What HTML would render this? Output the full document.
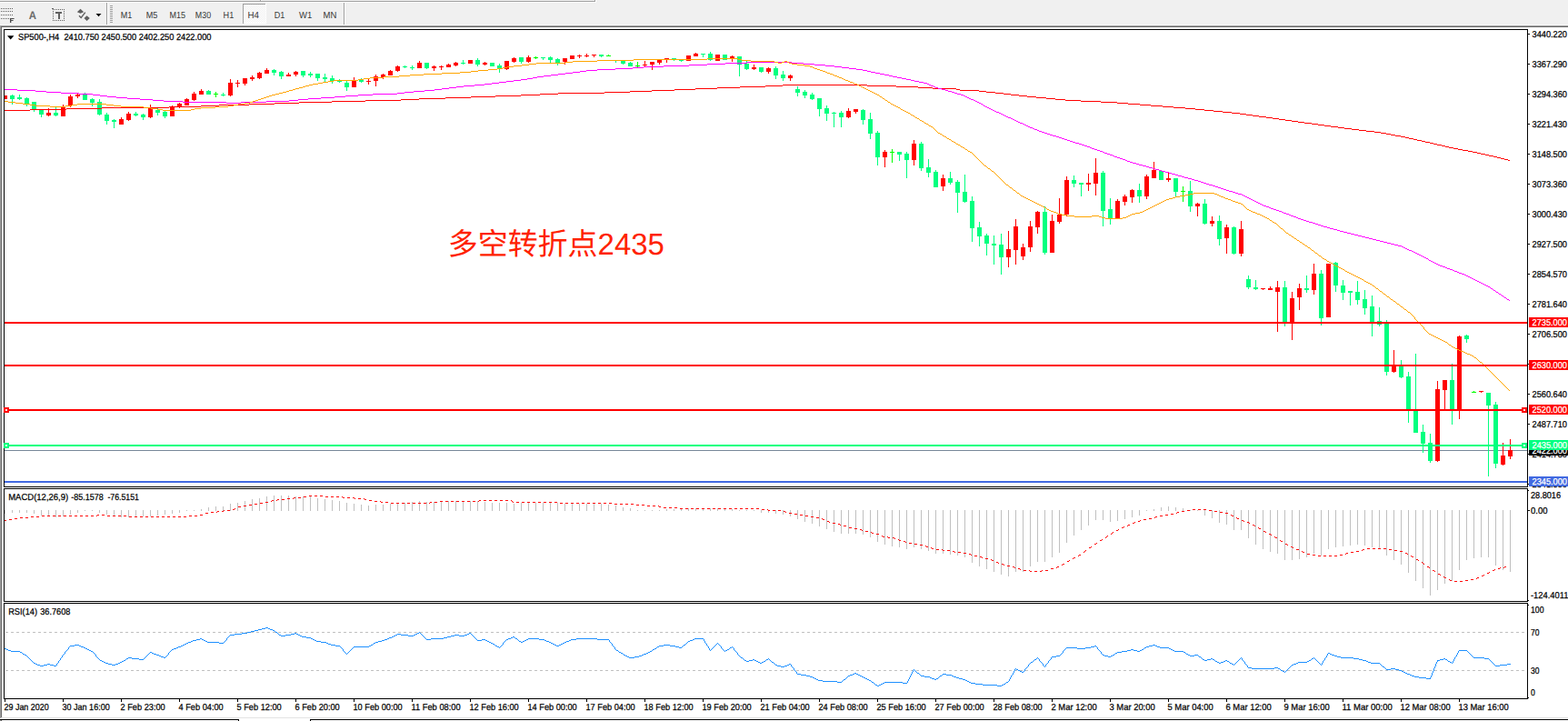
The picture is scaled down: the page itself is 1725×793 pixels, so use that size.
<!DOCTYPE html>
<html><head><meta charset="utf-8"><title>SP500 H4</title>
<style>html,body{margin:0;padding:0;background:#fff;width:1725px;height:793px;overflow:hidden;font-family:"Liberation Sans",sans-serif}text{font-family:"Liberation Sans",sans-serif;stroke-width:0.25px;paint-order:stroke;text-rendering:geometricPrecision}</style>
</head><body><svg width="1725" height="793" viewBox="0 0 1725 793" shape-rendering="crispEdges" font-family="Liberation Sans, sans-serif" style="position:absolute;left:0;top:0"><rect x="0" y="0" width="1725" height="28" fill="#f0f0f0"/>
<rect x="0" y="1" width="655" height="1" fill="#a0a0a0"/>
<rect x="0" y="2" width="656" height="1" fill="#ffffff"/>
<rect x="286" y="0" width="1" height="2" fill="#a0a0a0"/>
<rect x="287" y="0" width="1" height="1" fill="#fff"/>
<rect x="654" y="0" width="1" height="2" fill="#a0a0a0"/>
<rect x="655" y="0" width="1" height="3" fill="#fff"/>
<rect x="0" y="27" width="1725" height="1" fill="#f6f6f6"/>
<rect x="0" y="28" width="1725" height="1" fill="#a0a0a0"/>
<rect x="0" y="29" width="1725" height="1" fill="#696969"/>
<rect x="0" y="29" width="1" height="761" fill="#a0a0a0"/>
<rect x="1" y="29" width="1" height="760" fill="#696969"/>
<rect x="1" y="789" width="1724" height="1" fill="#e3e3e3"/>
<rect x="0" y="791" width="263" height="1" fill="#000"/>
<rect x="262" y="791" width="1" height="2" fill="#000"/>
<rect x="341" y="791" width="1384" height="1" fill="#000"/>
<rect x="341" y="791" width="1" height="2" fill="#000"/>
<rect x="0" y="792" width="1" height="1" fill="#a0a0a0"/>
<rect x="1" y="792" width="1" height="1" fill="#696969"/>
<rect x="117" y="3" width="1" height="24" fill="#a0a0a0"/>
<rect x="118" y="3" width="1" height="24" fill="#fff"/>
<rect x="378" y="3" width="1" height="24" fill="#a0a0a0"/>
<rect x="379" y="3" width="1" height="24" fill="#fff"/>
<rect x="121" y="6" width="3" height="1" fill="#a0a0a0"/>
<rect x="121" y="8" width="3" height="1" fill="#a0a0a0"/>
<rect x="121" y="10" width="3" height="1" fill="#a0a0a0"/>
<rect x="121" y="12" width="3" height="1" fill="#a0a0a0"/>
<rect x="121" y="14" width="3" height="1" fill="#a0a0a0"/>
<rect x="121" y="16" width="3" height="1" fill="#a0a0a0"/>
<rect x="121" y="18" width="3" height="1" fill="#a0a0a0"/>
<rect x="121" y="20" width="3" height="1" fill="#a0a0a0"/>
<rect x="121" y="22" width="3" height="1" fill="#a0a0a0"/>
<rect x="121" y="24" width="3" height="1" fill="#a0a0a0"/>
<pattern id="dz" width="2" height="2" patternUnits="userSpaceOnUse"><rect width="2" height="2" fill="#f0f0f0"/><rect x="0" y="0" width="1" height="1" fill="#fff"/><rect x="1" y="1" width="1" height="1" fill="#fff"/></pattern>
<rect x="268" y="5" width="24" height="20" fill="url(#dz)"/>
<rect x="267" y="4" width="25" height="1" fill="#a0a0a0"/>
<rect x="267" y="4" width="1" height="22" fill="#a0a0a0"/>
<rect x="268" y="25" width="25" height="1" fill="#fff"/>
<rect x="292" y="4" width="1" height="22" fill="#fff"/>
<text x="132.7" y="20" font-size="10.2" fill="#383838" stroke="#383838" text-anchor="start" textLength="12.5" lengthAdjust="spacingAndGlyphs" style="stroke:none">M1</text>
<text x="160.7" y="20" font-size="10.2" fill="#383838" stroke="#383838" text-anchor="start" textLength="12.6" lengthAdjust="spacingAndGlyphs" style="stroke:none">M5</text>
<text x="186.6" y="20" font-size="10.2" fill="#383838" stroke="#383838" text-anchor="start" textLength="17.5" lengthAdjust="spacingAndGlyphs" style="stroke:none">M15</text>
<text x="214.8" y="20" font-size="10.2" fill="#383838" stroke="#383838" text-anchor="start" textLength="17.3" lengthAdjust="spacingAndGlyphs" style="stroke:none">M30</text>
<text x="245.6" y="20" font-size="10.2" fill="#383838" stroke="#383838" text-anchor="start" textLength="11.6" lengthAdjust="spacingAndGlyphs" style="stroke:none">H1</text>
<text x="272.5" y="20" font-size="10.2" fill="#383838" stroke="#383838" text-anchor="start" textLength="12.5" lengthAdjust="spacingAndGlyphs" style="stroke:none">H4</text>
<text x="301.7" y="20" font-size="10.2" fill="#383838" stroke="#383838" text-anchor="start" textLength="11.6" lengthAdjust="spacingAndGlyphs" style="stroke:none">D1</text>
<text x="329" y="20" font-size="10.2" fill="#383838" stroke="#383838" text-anchor="start" textLength="14.2" lengthAdjust="spacingAndGlyphs" style="stroke:none">W1</text>
<text x="355.5" y="20" font-size="10.2" fill="#383838" stroke="#383838" text-anchor="start" textLength="14.8" lengthAdjust="spacingAndGlyphs" style="stroke:none">MN</text>
<rect x="1" y="9" width="1" height="1" fill="#606060"/>
<rect x="3" y="9" width="1" height="1" fill="#606060"/>
<rect x="5" y="9" width="1" height="1" fill="#606060"/>
<rect x="7" y="9" width="1" height="1" fill="#606060"/>
<rect x="9" y="9" width="1" height="1" fill="#606060"/>
<rect x="11" y="9" width="1" height="1" fill="#606060"/>
<rect x="13" y="9" width="1" height="1" fill="#606060"/>
<rect x="1" y="12" width="1" height="1" fill="#606060"/>
<rect x="3" y="12" width="1" height="1" fill="#606060"/>
<rect x="5" y="12" width="1" height="1" fill="#606060"/>
<rect x="7" y="12" width="1" height="1" fill="#606060"/>
<rect x="9" y="12" width="1" height="1" fill="#606060"/>
<rect x="11" y="12" width="1" height="1" fill="#606060"/>
<rect x="13" y="12" width="1" height="1" fill="#606060"/>
<rect x="1" y="16" width="1" height="1" fill="#606060"/>
<rect x="3" y="16" width="1" height="1" fill="#606060"/>
<rect x="5" y="16" width="1" height="1" fill="#606060"/>
<rect x="7" y="16" width="1" height="1" fill="#606060"/>
<rect x="9" y="16" width="1" height="1" fill="#606060"/>
<rect x="11" y="16" width="1" height="1" fill="#606060"/>
<rect x="13" y="16" width="1" height="1" fill="#606060"/>
<rect x="1" y="20" width="1" height="1" fill="#606060"/>
<rect x="3" y="20" width="1" height="1" fill="#606060"/>
<rect x="5" y="20" width="1" height="1" fill="#606060"/>
<rect x="7" y="20" width="1" height="1" fill="#606060"/>
<rect x="9" y="20" width="1" height="1" fill="#606060"/>
<rect x="11" y="20" width="1" height="5" fill="#484848"/>
<rect x="11" y="20" width="4" height="1" fill="#484848"/>
<rect x="11" y="22" width="3" height="1" fill="#484848"/>
<rect x="15" y="20" width="1" height="1" fill="#909090"/>
<rect x="14" y="22" width="1" height="1" fill="#909090"/>
<rect x="12" y="20" width="0.4" height="5" fill="#606060" shape-rendering="auto"/>
<text x="31.8" y="21" font-size="12.3" fill="#6a6a6a" stroke="#6a6a6a" text-anchor="start" textLength="8.2" lengthAdjust="spacingAndGlyphs" font-weight="bold" style="stroke:none">A</text>
<rect x="58" y="10" width="1" height="1" fill="#606060"/>
<rect x="58" y="22" width="1" height="1" fill="#606060"/>
<rect x="60" y="10" width="1" height="1" fill="#606060"/>
<rect x="60" y="22" width="1" height="1" fill="#606060"/>
<rect x="62" y="10" width="1" height="1" fill="#606060"/>
<rect x="62" y="22" width="1" height="1" fill="#606060"/>
<rect x="64" y="10" width="1" height="1" fill="#606060"/>
<rect x="64" y="22" width="1" height="1" fill="#606060"/>
<rect x="66" y="10" width="1" height="1" fill="#606060"/>
<rect x="66" y="22" width="1" height="1" fill="#606060"/>
<rect x="68" y="10" width="1" height="1" fill="#606060"/>
<rect x="68" y="22" width="1" height="1" fill="#606060"/>
<rect x="70" y="10" width="1" height="1" fill="#606060"/>
<rect x="70" y="22" width="1" height="1" fill="#606060"/>
<rect x="58" y="10" width="1" height="1" fill="#606060"/>
<rect x="70" y="10" width="1" height="1" fill="#606060"/>
<rect x="58" y="12" width="1" height="1" fill="#606060"/>
<rect x="70" y="12" width="1" height="1" fill="#606060"/>
<rect x="58" y="14" width="1" height="1" fill="#606060"/>
<rect x="70" y="14" width="1" height="1" fill="#606060"/>
<rect x="58" y="16" width="1" height="1" fill="#606060"/>
<rect x="70" y="16" width="1" height="1" fill="#606060"/>
<rect x="58" y="18" width="1" height="1" fill="#606060"/>
<rect x="70" y="18" width="1" height="1" fill="#606060"/>
<rect x="58" y="20" width="1" height="1" fill="#606060"/>
<rect x="70" y="20" width="1" height="1" fill="#606060"/>
<rect x="58" y="22" width="1" height="1" fill="#606060"/>
<rect x="70" y="22" width="1" height="1" fill="#606060"/>
<rect x="57" y="9" width="2" height="1" fill="#606060"/>
<rect x="61" y="13" width="7" height="2" fill="#606060"/>
<rect x="64" y="13" width="2" height="8" fill="#606060"/>
<path d="M84.8,13.3 L88.5,9.8 L92.2,13.3 L88.5,14.7 Z M92.5,20 L95.5,17.2 L98.8,20 L95.5,23 Z" fill="#606060" shape-rendering="auto"/>
<path d="M87,17.2 L89.2,19.5 L93.8,13.6" fill="none" stroke="#606060" stroke-width="1.4" shape-rendering="auto"/>
<path d="M105.5,15 L111.5,15 L108.5,18.3 Z" fill="#000" shape-rendering="auto"/>
<rect x="4" y="32" width="1677" height="1" fill="#000"/>
<rect x="4" y="535" width="1677" height="1" fill="#000"/>
<rect x="4" y="32" width="1" height="504" fill="#000"/>
<rect x="1680" y="32" width="1" height="504" fill="#000"/>
<rect x="4" y="537" width="1677" height="1" fill="#000"/>
<rect x="4" y="661" width="1677" height="1" fill="#000"/>
<rect x="4" y="537" width="1" height="125" fill="#000"/>
<rect x="1680" y="537" width="1" height="125" fill="#000"/>
<rect x="4" y="663" width="1677" height="1" fill="#000"/>
<rect x="4" y="768" width="1677" height="1" fill="#000"/>
<rect x="4" y="663" width="1" height="106" fill="#000"/>
<rect x="1680" y="663" width="1" height="106" fill="#000"/>
<clipPath id="cm"><rect x="5" y="33" width="1675" height="502"/></clipPath>
<clipPath id="c2"><rect x="5" y="538" width="1675" height="123"/></clipPath>
<clipPath id="c3"><rect x="5" y="664" width="1675" height="104"/></clipPath>
<rect x="1681" y="37" width="2" height="1" fill="#000"/>
<text x="1685.5" y="40.6" font-size="10" fill="#000" stroke="#000" text-anchor="start" textLength="38.5" lengthAdjust="spacingAndGlyphs">3440.220</text>
<rect x="1681" y="70" width="2" height="1" fill="#000"/>
<text x="1685.5" y="73.6" font-size="10" fill="#000" stroke="#000" text-anchor="start" textLength="38.5" lengthAdjust="spacingAndGlyphs">3367.290</text>
<rect x="1681" y="103" width="2" height="1" fill="#000"/>
<text x="1685.5" y="106.6" font-size="10" fill="#000" stroke="#000" text-anchor="start" textLength="38.5" lengthAdjust="spacingAndGlyphs">3294.360</text>
<rect x="1681" y="136" width="2" height="1" fill="#000"/>
<text x="1685.5" y="139.6" font-size="10" fill="#000" stroke="#000" text-anchor="start" textLength="38.5" lengthAdjust="spacingAndGlyphs">3221.430</text>
<rect x="1681" y="169" width="2" height="1" fill="#000"/>
<text x="1685.5" y="172.6" font-size="10" fill="#000" stroke="#000" text-anchor="start" textLength="38.5" lengthAdjust="spacingAndGlyphs">3148.500</text>
<rect x="1681" y="202" width="2" height="1" fill="#000"/>
<text x="1685.5" y="205.6" font-size="10" fill="#000" stroke="#000" text-anchor="start" textLength="38.5" lengthAdjust="spacingAndGlyphs">3073.360</text>
<rect x="1681" y="235" width="2" height="1" fill="#000"/>
<text x="1685.5" y="238.6" font-size="10" fill="#000" stroke="#000" text-anchor="start" textLength="38.5" lengthAdjust="spacingAndGlyphs">3000.430</text>
<rect x="1681" y="268" width="2" height="1" fill="#000"/>
<text x="1685.5" y="271.6" font-size="10" fill="#000" stroke="#000" text-anchor="start" textLength="38.5" lengthAdjust="spacingAndGlyphs">2927.500</text>
<rect x="1681" y="301" width="2" height="1" fill="#000"/>
<text x="1685.5" y="304.6" font-size="10" fill="#000" stroke="#000" text-anchor="start" textLength="38.5" lengthAdjust="spacingAndGlyphs">2854.570</text>
<rect x="1681" y="334" width="2" height="1" fill="#000"/>
<text x="1685.5" y="337.6" font-size="10" fill="#000" stroke="#000" text-anchor="start" textLength="38.5" lengthAdjust="spacingAndGlyphs">2781.640</text>
<rect x="1681" y="367" width="2" height="1" fill="#000"/>
<text x="1685.5" y="370.6" font-size="10" fill="#000" stroke="#000" text-anchor="start" textLength="38.5" lengthAdjust="spacingAndGlyphs">2706.500</text>
<rect x="1681" y="400" width="2" height="1" fill="#000"/>
<text x="1685.5" y="403.6" font-size="10" fill="#000" stroke="#000" text-anchor="start" textLength="38.5" lengthAdjust="spacingAndGlyphs">2633.570</text>
<rect x="1681" y="433" width="2" height="1" fill="#000"/>
<text x="1685.5" y="436.6" font-size="10" fill="#000" stroke="#000" text-anchor="start" textLength="38.5" lengthAdjust="spacingAndGlyphs">2560.640</text>
<rect x="1681" y="466" width="2" height="1" fill="#000"/>
<text x="1685.5" y="469.6" font-size="10" fill="#000" stroke="#000" text-anchor="start" textLength="38.5" lengthAdjust="spacingAndGlyphs">2487.710</text>
<rect x="1681" y="499" width="2" height="1" fill="#000"/>
<text x="1685.5" y="502.6" font-size="10" fill="#000" stroke="#000" text-anchor="start" textLength="38.5" lengthAdjust="spacingAndGlyphs">2414.780</text>
<rect x="1681" y="532" width="2" height="1" fill="#000"/>
<text x="1685.5" y="535.6" font-size="10" fill="#000" stroke="#000" text-anchor="start" textLength="38.5" lengthAdjust="spacingAndGlyphs">2341.850</text>
<rect x="5" y="768" width="1" height="4" fill="#000"/>
<text x="4.5" y="781" font-size="10" fill="#000" stroke="#000" text-anchor="start" textLength="49.2" lengthAdjust="spacingAndGlyphs">29 Jan 2020</text>
<rect x="69" y="768" width="1" height="4" fill="#000"/>
<text x="68.5" y="781" font-size="10" fill="#000" stroke="#000" text-anchor="start" textLength="52.2" lengthAdjust="spacingAndGlyphs">30 Jan 16:00</text>
<rect x="133" y="768" width="1" height="4" fill="#000"/>
<text x="132.5" y="781" font-size="10" fill="#000" stroke="#000" text-anchor="start" textLength="49.2" lengthAdjust="spacingAndGlyphs">2 Feb 23:00</text>
<rect x="197" y="768" width="1" height="4" fill="#000"/>
<text x="196.5" y="781" font-size="10" fill="#000" stroke="#000" text-anchor="start" textLength="49.2" lengthAdjust="spacingAndGlyphs">4 Feb 04:00</text>
<rect x="261" y="768" width="1" height="4" fill="#000"/>
<text x="260.5" y="781" font-size="10" fill="#000" stroke="#000" text-anchor="start" textLength="49.2" lengthAdjust="spacingAndGlyphs">5 Feb 12:00</text>
<rect x="325" y="768" width="1" height="4" fill="#000"/>
<text x="324.5" y="781" font-size="10" fill="#000" stroke="#000" text-anchor="start" textLength="49.2" lengthAdjust="spacingAndGlyphs">6 Feb 20:00</text>
<rect x="389" y="768" width="1" height="4" fill="#000"/>
<text x="388.5" y="781" font-size="10" fill="#000" stroke="#000" text-anchor="start" textLength="54.2" lengthAdjust="spacingAndGlyphs">10 Feb 00:00</text>
<rect x="453" y="768" width="1" height="4" fill="#000"/>
<text x="452.5" y="781" font-size="10" fill="#000" stroke="#000" text-anchor="start" textLength="54.2" lengthAdjust="spacingAndGlyphs">11 Feb 08:00</text>
<rect x="517" y="768" width="1" height="4" fill="#000"/>
<text x="516.5" y="781" font-size="10" fill="#000" stroke="#000" text-anchor="start" textLength="54.2" lengthAdjust="spacingAndGlyphs">12 Feb 16:00</text>
<rect x="581" y="768" width="1" height="4" fill="#000"/>
<text x="580.5" y="781" font-size="10" fill="#000" stroke="#000" text-anchor="start" textLength="54.2" lengthAdjust="spacingAndGlyphs">14 Feb 00:00</text>
<rect x="645" y="768" width="1" height="4" fill="#000"/>
<text x="644.5" y="781" font-size="10" fill="#000" stroke="#000" text-anchor="start" textLength="54.2" lengthAdjust="spacingAndGlyphs">17 Feb 04:00</text>
<rect x="709" y="768" width="1" height="4" fill="#000"/>
<text x="708.5" y="781" font-size="10" fill="#000" stroke="#000" text-anchor="start" textLength="54.2" lengthAdjust="spacingAndGlyphs">18 Feb 12:00</text>
<rect x="773" y="768" width="1" height="4" fill="#000"/>
<text x="772.5" y="781" font-size="10" fill="#000" stroke="#000" text-anchor="start" textLength="54.2" lengthAdjust="spacingAndGlyphs">19 Feb 20:00</text>
<rect x="837" y="768" width="1" height="4" fill="#000"/>
<text x="836.5" y="781" font-size="10" fill="#000" stroke="#000" text-anchor="start" textLength="54.2" lengthAdjust="spacingAndGlyphs">21 Feb 04:00</text>
<rect x="901" y="768" width="1" height="4" fill="#000"/>
<text x="900.5" y="781" font-size="10" fill="#000" stroke="#000" text-anchor="start" textLength="54.2" lengthAdjust="spacingAndGlyphs">24 Feb 08:00</text>
<rect x="965" y="768" width="1" height="4" fill="#000"/>
<text x="964.5" y="781" font-size="10" fill="#000" stroke="#000" text-anchor="start" textLength="54.2" lengthAdjust="spacingAndGlyphs">25 Feb 16:00</text>
<rect x="1029" y="768" width="1" height="4" fill="#000"/>
<text x="1028.5" y="781" font-size="10" fill="#000" stroke="#000" text-anchor="start" textLength="54.2" lengthAdjust="spacingAndGlyphs">27 Feb 00:00</text>
<rect x="1093" y="768" width="1" height="4" fill="#000"/>
<text x="1092.5" y="781" font-size="10" fill="#000" stroke="#000" text-anchor="start" textLength="54.2" lengthAdjust="spacingAndGlyphs">28 Feb 08:00</text>
<rect x="1157" y="768" width="1" height="4" fill="#000"/>
<text x="1156.5" y="781" font-size="10" fill="#000" stroke="#000" text-anchor="start" textLength="50.2" lengthAdjust="spacingAndGlyphs">2 Mar 12:00</text>
<rect x="1221" y="768" width="1" height="4" fill="#000"/>
<text x="1220.5" y="781" font-size="10" fill="#000" stroke="#000" text-anchor="start" textLength="50.2" lengthAdjust="spacingAndGlyphs">3 Mar 20:00</text>
<rect x="1285" y="768" width="1" height="4" fill="#000"/>
<text x="1284.5" y="781" font-size="10" fill="#000" stroke="#000" text-anchor="start" textLength="50.2" lengthAdjust="spacingAndGlyphs">5 Mar 04:00</text>
<rect x="1349" y="768" width="1" height="4" fill="#000"/>
<text x="1348.5" y="781" font-size="10" fill="#000" stroke="#000" text-anchor="start" textLength="50.2" lengthAdjust="spacingAndGlyphs">6 Mar 12:00</text>
<rect x="1413" y="768" width="1" height="4" fill="#000"/>
<text x="1412.5" y="781" font-size="10" fill="#000" stroke="#000" text-anchor="start" textLength="50.2" lengthAdjust="spacingAndGlyphs">9 Mar 16:00</text>
<rect x="1477" y="768" width="1" height="4" fill="#000"/>
<text x="1476.5" y="781" font-size="10" fill="#000" stroke="#000" text-anchor="start" textLength="55.2" lengthAdjust="spacingAndGlyphs">11 Mar 00:00</text>
<rect x="1541" y="768" width="1" height="4" fill="#000"/>
<text x="1540.5" y="781" font-size="10" fill="#000" stroke="#000" text-anchor="start" textLength="55.2" lengthAdjust="spacingAndGlyphs">12 Mar 08:00</text>
<rect x="1605" y="768" width="1" height="4" fill="#000"/>
<text x="1604.5" y="781" font-size="10" fill="#000" stroke="#000" text-anchor="start" textLength="55.2" lengthAdjust="spacingAndGlyphs">13 Mar 16:00</text>
<g clip-path="url(#cm)">
<rect x="5" y="495" width="1675" height="1" fill="#778899"/>
<rect x="5" y="105" width="1" height="4" fill="#ff0000"/>
<rect x="3" y="105" width="5" height="4" fill="#ff0000"/>
<rect x="13" y="104" width="1" height="11" fill="#00ff7f"/>
<rect x="11" y="105" width="5" height="4" fill="#00ff7f"/>
<rect x="21" y="104" width="1" height="6" fill="#00ff7f"/>
<rect x="19" y="107" width="5" height="2" fill="#00ff7f"/>
<rect x="29" y="107" width="1" height="10" fill="#00ff7f"/>
<rect x="27" y="108" width="5" height="6" fill="#00ff7f"/>
<rect x="37" y="112" width="1" height="11" fill="#00ff7f"/>
<rect x="35" y="112" width="5" height="9" fill="#00ff7f"/>
<rect x="45" y="121" width="1" height="8" fill="#00ff7f"/>
<rect x="43" y="121" width="5" height="5" fill="#00ff7f"/>
<rect x="53" y="119" width="1" height="9" fill="#ff0000"/>
<rect x="51" y="124" width="5" height="3" fill="#ff0000"/>
<rect x="61" y="118" width="1" height="10" fill="#00ff7f"/>
<rect x="59" y="124" width="5" height="3" fill="#00ff7f"/>
<rect x="69" y="115" width="1" height="13" fill="#ff0000"/>
<rect x="67" y="118" width="5" height="10" fill="#ff0000"/>
<rect x="77" y="104" width="1" height="14" fill="#ff0000"/>
<rect x="75" y="106" width="5" height="10" fill="#ff0000"/>
<rect x="85" y="102" width="1" height="6" fill="#ff0000"/>
<rect x="83" y="104" width="5" height="2" fill="#ff0000"/>
<rect x="93" y="102" width="1" height="8" fill="#00ff7f"/>
<rect x="91" y="103" width="5" height="7" fill="#00ff7f"/>
<rect x="101" y="108" width="1" height="9" fill="#00ff7f"/>
<rect x="99" y="109" width="5" height="4" fill="#00ff7f"/>
<rect x="109" y="109" width="1" height="18" fill="#00ff7f"/>
<rect x="107" y="112" width="5" height="14" fill="#00ff7f"/>
<rect x="117" y="124" width="1" height="13" fill="#00ff7f"/>
<rect x="115" y="126" width="5" height="7" fill="#00ff7f"/>
<rect x="125" y="131" width="1" height="10" fill="#00ff7f"/>
<rect x="123" y="132" width="5" height="2" fill="#00ff7f"/>
<rect x="133" y="129" width="1" height="8" fill="#ff0000"/>
<rect x="131" y="131" width="5" height="6" fill="#ff0000"/>
<rect x="141" y="123" width="1" height="10" fill="#ff0000"/>
<rect x="139" y="125" width="5" height="7" fill="#ff0000"/>
<rect x="149" y="123" width="1" height="5" fill="#00ff7f"/>
<rect x="147" y="125" width="5" height="2" fill="#00ff7f"/>
<rect x="157" y="125" width="1" height="7" fill="#00ff7f"/>
<rect x="155" y="126" width="5" height="3" fill="#00ff7f"/>
<rect x="165" y="115" width="1" height="15" fill="#ff0000"/>
<rect x="163" y="119" width="5" height="10" fill="#ff0000"/>
<rect x="173" y="119" width="1" height="8" fill="#00ff7f"/>
<rect x="171" y="121" width="5" height="3" fill="#00ff7f"/>
<rect x="181" y="121" width="1" height="9" fill="#00ff7f"/>
<rect x="179" y="123" width="5" height="5" fill="#00ff7f"/>
<rect x="189" y="116" width="1" height="12" fill="#ff0000"/>
<rect x="187" y="118" width="5" height="10" fill="#ff0000"/>
<rect x="197" y="113" width="1" height="6" fill="#ff0000"/>
<rect x="195" y="114" width="5" height="4" fill="#ff0000"/>
<rect x="205" y="108" width="1" height="8" fill="#ff0000"/>
<rect x="203" y="109" width="5" height="7" fill="#ff0000"/>
<rect x="213" y="101" width="1" height="10" fill="#ff0000"/>
<rect x="211" y="103" width="5" height="7" fill="#ff0000"/>
<rect x="221" y="98" width="1" height="6" fill="#ff0000"/>
<rect x="219" y="100" width="5" height="4" fill="#ff0000"/>
<rect x="229" y="99" width="1" height="5" fill="#00ff7f"/>
<rect x="227" y="100" width="5" height="4" fill="#00ff7f"/>
<rect x="237" y="101" width="1" height="6" fill="#00ff00"/>
<rect x="235" y="103" width="5" height="1" fill="#00ff00"/>
<rect x="245" y="102" width="1" height="4" fill="#00ff7f"/>
<rect x="243" y="104" width="5" height="1" fill="#00ff7f"/>
<rect x="253" y="87" width="1" height="19" fill="#ff0000"/>
<rect x="251" y="91" width="5" height="14" fill="#ff0000"/>
<rect x="261" y="88" width="1" height="8" fill="#ff0000"/>
<rect x="259" y="91" width="5" height="1" fill="#ff0000"/>
<rect x="269" y="86" width="1" height="8" fill="#ff0000"/>
<rect x="267" y="86" width="5" height="6" fill="#ff0000"/>
<rect x="277" y="83" width="1" height="6" fill="#ff0000"/>
<rect x="275" y="85" width="5" height="2" fill="#ff0000"/>
<rect x="285" y="79" width="1" height="8" fill="#ff0000"/>
<rect x="283" y="80" width="5" height="6" fill="#ff0000"/>
<rect x="293" y="75" width="1" height="6" fill="#ff0000"/>
<rect x="291" y="77" width="5" height="4" fill="#ff0000"/>
<rect x="301" y="76" width="1" height="7" fill="#00ff7f"/>
<rect x="299" y="77" width="5" height="3" fill="#00ff7f"/>
<rect x="309" y="78" width="1" height="9" fill="#00ff7f"/>
<rect x="307" y="79" width="5" height="5" fill="#00ff7f"/>
<rect x="317" y="80" width="1" height="4" fill="#ff0000"/>
<rect x="315" y="82" width="5" height="2" fill="#ff0000"/>
<rect x="325" y="78" width="1" height="6" fill="#ff0000"/>
<rect x="323" y="79" width="5" height="3" fill="#ff0000"/>
<rect x="333" y="78" width="1" height="7" fill="#00ff7f"/>
<rect x="331" y="78" width="5" height="5" fill="#00ff7f"/>
<rect x="341" y="79" width="1" height="6" fill="#00ff7f"/>
<rect x="339" y="81" width="5" height="2" fill="#00ff7f"/>
<rect x="349" y="81" width="1" height="8" fill="#00ff7f"/>
<rect x="347" y="81" width="5" height="5" fill="#00ff7f"/>
<rect x="357" y="81" width="1" height="10" fill="#00ff7f"/>
<rect x="355" y="85" width="5" height="2" fill="#00ff7f"/>
<rect x="365" y="83" width="1" height="9" fill="#00ff7f"/>
<rect x="363" y="86" width="5" height="3" fill="#00ff7f"/>
<rect x="373" y="87" width="1" height="4" fill="#00ff7f"/>
<rect x="371" y="88" width="5" height="2" fill="#00ff7f"/>
<rect x="381" y="89" width="1" height="11" fill="#00ff7f"/>
<rect x="379" y="91" width="5" height="5" fill="#00ff7f"/>
<rect x="389" y="85" width="1" height="11" fill="#ff0000"/>
<rect x="387" y="89" width="5" height="7" fill="#ff0000"/>
<rect x="397" y="86" width="1" height="5" fill="#00ff7f"/>
<rect x="395" y="88" width="5" height="2" fill="#00ff7f"/>
<rect x="405" y="87" width="1" height="6" fill="#ff0000"/>
<rect x="403" y="89" width="5" height="1" fill="#ff0000"/>
<rect x="413" y="82" width="1" height="13" fill="#ff0000"/>
<rect x="411" y="84" width="5" height="5" fill="#ff0000"/>
<rect x="421" y="81" width="1" height="6" fill="#ff0000"/>
<rect x="419" y="82" width="5" height="3" fill="#ff0000"/>
<rect x="429" y="77" width="1" height="6" fill="#ff0000"/>
<rect x="427" y="78" width="5" height="5" fill="#ff0000"/>
<rect x="437" y="72" width="1" height="7" fill="#ff0000"/>
<rect x="435" y="73" width="5" height="5" fill="#ff0000"/>
<rect x="445" y="72" width="1" height="3" fill="#00ff7f"/>
<rect x="443" y="73" width="5" height="1" fill="#00ff7f"/>
<rect x="453" y="72" width="1" height="5" fill="#00ff7f"/>
<rect x="451" y="74" width="5" height="1" fill="#00ff7f"/>
<rect x="461" y="67" width="1" height="8" fill="#ff0000"/>
<rect x="459" y="69" width="5" height="6" fill="#ff0000"/>
<rect x="469" y="69" width="1" height="7" fill="#00ff7f"/>
<rect x="467" y="69" width="5" height="6" fill="#00ff7f"/>
<rect x="477" y="72" width="1" height="6" fill="#ff0000"/>
<rect x="475" y="73" width="5" height="2" fill="#ff0000"/>
<rect x="485" y="72" width="1" height="5" fill="#ff0000"/>
<rect x="483" y="73" width="5" height="1" fill="#ff0000"/>
<rect x="493" y="70" width="1" height="4" fill="#ff0000"/>
<rect x="491" y="71" width="5" height="3" fill="#ff0000"/>
<rect x="501" y="68" width="1" height="5" fill="#ff0000"/>
<rect x="499" y="69" width="5" height="3" fill="#ff0000"/>
<rect x="509" y="66" width="1" height="5" fill="#00ff7f"/>
<rect x="507" y="69" width="5" height="1" fill="#00ff7f"/>
<rect x="517" y="66" width="1" height="4" fill="#ff0000"/>
<rect x="515" y="66" width="5" height="4" fill="#ff0000"/>
<rect x="525" y="64" width="1" height="9" fill="#00ff7f"/>
<rect x="523" y="66" width="5" height="5" fill="#00ff7f"/>
<rect x="533" y="68" width="1" height="4" fill="#ff0000"/>
<rect x="531" y="69" width="5" height="2" fill="#ff0000"/>
<rect x="541" y="69" width="1" height="4" fill="#00ff7f"/>
<rect x="539" y="69" width="5" height="4" fill="#00ff7f"/>
<rect x="549" y="70" width="1" height="10" fill="#00ff7f"/>
<rect x="547" y="72" width="5" height="3" fill="#00ff7f"/>
<rect x="557" y="67" width="1" height="10" fill="#ff0000"/>
<rect x="555" y="67" width="5" height="9" fill="#ff0000"/>
<rect x="565" y="63" width="1" height="6" fill="#ff0000"/>
<rect x="563" y="64" width="5" height="4" fill="#ff0000"/>
<rect x="573" y="63" width="1" height="7" fill="#00ff7f"/>
<rect x="571" y="63" width="5" height="5" fill="#00ff7f"/>
<rect x="581" y="61" width="1" height="8" fill="#ff0000"/>
<rect x="579" y="63" width="5" height="5" fill="#ff0000"/>
<rect x="589" y="62" width="1" height="3" fill="#00ff00"/>
<rect x="587" y="63" width="5" height="1" fill="#00ff00"/>
<rect x="597" y="63" width="1" height="3" fill="#00ff7f"/>
<rect x="595" y="63" width="5" height="1" fill="#00ff7f"/>
<rect x="605" y="62" width="1" height="7" fill="#00ff7f"/>
<rect x="603" y="63" width="5" height="3" fill="#00ff7f"/>
<rect x="613" y="64" width="1" height="8" fill="#00ff7f"/>
<rect x="611" y="65" width="5" height="4" fill="#00ff7f"/>
<rect x="621" y="64" width="1" height="7" fill="#ff0000"/>
<rect x="619" y="64" width="5" height="4" fill="#ff0000"/>
<rect x="629" y="61" width="1" height="4" fill="#ff0000"/>
<rect x="627" y="61" width="5" height="4" fill="#ff0000"/>
<rect x="637" y="60" width="1" height="4" fill="#ff0000"/>
<rect x="635" y="61" width="5" height="1" fill="#ff0000"/>
<rect x="645" y="59" width="1" height="4" fill="#ff0000"/>
<rect x="643" y="61" width="5" height="1" fill="#ff0000"/>
<rect x="653" y="60" width="1" height="3" fill="#ff0000"/>
<rect x="651" y="60" width="5" height="1" fill="#ff0000"/>
<rect x="661" y="60" width="1" height="3" fill="#00ff7f"/>
<rect x="659" y="60" width="5" height="2" fill="#00ff7f"/>
<rect x="669" y="60" width="1" height="2" fill="#00ff00"/>
<rect x="667" y="61" width="5" height="1" fill="#00ff00"/>
<rect x="677" y="66" width="1" height="3" fill="#00ff7f"/>
<rect x="675" y="66" width="5" height="1" fill="#00ff7f"/>
<rect x="685" y="66" width="1" height="5" fill="#00ff7f"/>
<rect x="683" y="67" width="5" height="3" fill="#00ff7f"/>
<rect x="693" y="68" width="1" height="5" fill="#00ff7f"/>
<rect x="691" y="69" width="5" height="4" fill="#00ff7f"/>
<rect x="701" y="68" width="1" height="6" fill="#00ff00"/>
<rect x="699" y="72" width="5" height="1" fill="#00ff00"/>
<rect x="709" y="67" width="1" height="6" fill="#ff0000"/>
<rect x="707" y="71" width="5" height="1" fill="#ff0000"/>
<rect x="717" y="68" width="1" height="9" fill="#ff0000"/>
<rect x="715" y="68" width="5" height="3" fill="#ff0000"/>
<rect x="725" y="66" width="1" height="5" fill="#ff0000"/>
<rect x="723" y="66" width="5" height="3" fill="#ff0000"/>
<rect x="733" y="64" width="1" height="5" fill="#ff0000"/>
<rect x="731" y="64" width="5" height="1" fill="#ff0000"/>
<rect x="741" y="64" width="1" height="3" fill="#00ff7f"/>
<rect x="739" y="64" width="5" height="1" fill="#00ff7f"/>
<rect x="749" y="65" width="1" height="3" fill="#00ff7f"/>
<rect x="747" y="66" width="5" height="1" fill="#00ff7f"/>
<rect x="757" y="61" width="1" height="6" fill="#ff0000"/>
<rect x="755" y="61" width="5" height="6" fill="#ff0000"/>
<rect x="765" y="58" width="1" height="4" fill="#ff0000"/>
<rect x="763" y="59" width="5" height="3" fill="#ff0000"/>
<rect x="773" y="59" width="1" height="4" fill="#00ff7f"/>
<rect x="771" y="59" width="5" height="1" fill="#00ff7f"/>
<rect x="781" y="57" width="1" height="10" fill="#00ff7f"/>
<rect x="779" y="59" width="5" height="7" fill="#00ff7f"/>
<rect x="789" y="60" width="1" height="7" fill="#ff0000"/>
<rect x="787" y="60" width="5" height="7" fill="#ff0000"/>
<rect x="797" y="60" width="1" height="6" fill="#00ff7f"/>
<rect x="795" y="60" width="5" height="6" fill="#00ff7f"/>
<rect x="805" y="61" width="1" height="7" fill="#ff0000"/>
<rect x="803" y="62" width="5" height="3" fill="#ff0000"/>
<rect x="813" y="62" width="1" height="22" fill="#00ff7f"/>
<rect x="811" y="62" width="5" height="9" fill="#00ff7f"/>
<rect x="821" y="67" width="1" height="10" fill="#00ff7f"/>
<rect x="819" y="70" width="5" height="6" fill="#00ff7f"/>
<rect x="829" y="71" width="1" height="6" fill="#ff0000"/>
<rect x="827" y="74" width="5" height="2" fill="#ff0000"/>
<rect x="837" y="74" width="1" height="6" fill="#00ff7f"/>
<rect x="835" y="74" width="5" height="5" fill="#00ff7f"/>
<rect x="845" y="74" width="1" height="7" fill="#ff0000"/>
<rect x="843" y="75" width="5" height="4" fill="#ff0000"/>
<rect x="853" y="73" width="1" height="14" fill="#00ff7f"/>
<rect x="851" y="75" width="5" height="8" fill="#00ff7f"/>
<rect x="861" y="78" width="1" height="11" fill="#00ff7f"/>
<rect x="859" y="82" width="5" height="4" fill="#00ff7f"/>
<rect x="869" y="82" width="1" height="7" fill="#ff0000"/>
<rect x="867" y="83" width="5" height="3" fill="#ff0000"/>
<rect x="877" y="95" width="1" height="11" fill="#00ff7f"/>
<rect x="875" y="98" width="5" height="4" fill="#00ff7f"/>
<rect x="885" y="99" width="1" height="9" fill="#00ff7f"/>
<rect x="883" y="101" width="5" height="4" fill="#00ff7f"/>
<rect x="893" y="102" width="1" height="8" fill="#00ff7f"/>
<rect x="891" y="104" width="5" height="5" fill="#00ff7f"/>
<rect x="901" y="108" width="1" height="20" fill="#00ff7f"/>
<rect x="899" y="108" width="5" height="12" fill="#00ff7f"/>
<rect x="909" y="116" width="1" height="17" fill="#00ff7f"/>
<rect x="907" y="119" width="5" height="6" fill="#00ff7f"/>
<rect x="917" y="123" width="1" height="17" fill="#00ff7f"/>
<rect x="915" y="124" width="5" height="1" fill="#00ff7f"/>
<rect x="925" y="122" width="1" height="18" fill="#00ff7f"/>
<rect x="923" y="124" width="5" height="5" fill="#00ff7f"/>
<rect x="933" y="119" width="1" height="11" fill="#ff0000"/>
<rect x="931" y="122" width="5" height="7" fill="#ff0000"/>
<rect x="941" y="120" width="1" height="5" fill="#ff0000"/>
<rect x="939" y="120" width="5" height="3" fill="#ff0000"/>
<rect x="949" y="120" width="1" height="17" fill="#00ff7f"/>
<rect x="947" y="121" width="5" height="11" fill="#00ff7f"/>
<rect x="957" y="124" width="1" height="29" fill="#00ff7f"/>
<rect x="955" y="131" width="5" height="16" fill="#00ff7f"/>
<rect x="965" y="144" width="1" height="38" fill="#00ff7f"/>
<rect x="963" y="146" width="5" height="27" fill="#00ff7f"/>
<rect x="973" y="165" width="1" height="19" fill="#ff0000"/>
<rect x="971" y="167" width="5" height="6" fill="#ff0000"/>
<rect x="981" y="164" width="1" height="15" fill="#00ff00"/>
<rect x="979" y="167" width="5" height="1" fill="#00ff00"/>
<rect x="989" y="167" width="1" height="10" fill="#00ff7f"/>
<rect x="987" y="167" width="5" height="3" fill="#00ff7f"/>
<rect x="997" y="167" width="1" height="29" fill="#00ff7f"/>
<rect x="995" y="169" width="5" height="7" fill="#00ff7f"/>
<rect x="1005" y="154" width="1" height="28" fill="#ff0000"/>
<rect x="1003" y="158" width="5" height="18" fill="#ff0000"/>
<rect x="1013" y="156" width="1" height="32" fill="#00ff7f"/>
<rect x="1011" y="158" width="5" height="27" fill="#00ff7f"/>
<rect x="1021" y="175" width="1" height="20" fill="#00ff7f"/>
<rect x="1019" y="184" width="5" height="6" fill="#00ff7f"/>
<rect x="1029" y="187" width="1" height="19" fill="#00ff7f"/>
<rect x="1027" y="189" width="5" height="17" fill="#00ff7f"/>
<rect x="1037" y="192" width="1" height="18" fill="#ff0000"/>
<rect x="1035" y="196" width="5" height="9" fill="#ff0000"/>
<rect x="1045" y="189" width="1" height="14" fill="#00ff7f"/>
<rect x="1043" y="196" width="5" height="5" fill="#00ff7f"/>
<rect x="1053" y="198" width="1" height="36" fill="#00ff7f"/>
<rect x="1051" y="200" width="5" height="12" fill="#00ff7f"/>
<rect x="1061" y="192" width="1" height="31" fill="#00ff7f"/>
<rect x="1059" y="211" width="5" height="11" fill="#00ff7f"/>
<rect x="1069" y="216" width="1" height="50" fill="#00ff7f"/>
<rect x="1067" y="221" width="5" height="30" fill="#00ff7f"/>
<rect x="1077" y="244" width="1" height="27" fill="#00ff7f"/>
<rect x="1075" y="250" width="5" height="10" fill="#00ff7f"/>
<rect x="1085" y="257" width="1" height="24" fill="#00ff7f"/>
<rect x="1083" y="259" width="5" height="9" fill="#00ff7f"/>
<rect x="1093" y="259" width="1" height="32" fill="#00ff7f"/>
<rect x="1091" y="268" width="5" height="2" fill="#00ff7f"/>
<rect x="1101" y="257" width="1" height="45" fill="#00ff7f"/>
<rect x="1099" y="269" width="5" height="14" fill="#00ff7f"/>
<rect x="1109" y="254" width="1" height="40" fill="#ff0000"/>
<rect x="1107" y="274" width="5" height="9" fill="#ff0000"/>
<rect x="1117" y="241" width="1" height="50" fill="#ff0000"/>
<rect x="1115" y="249" width="5" height="26" fill="#ff0000"/>
<rect x="1125" y="268" width="1" height="18" fill="#ff0000"/>
<rect x="1123" y="272" width="5" height="10" fill="#ff0000"/>
<rect x="1133" y="243" width="1" height="34" fill="#ff0000"/>
<rect x="1131" y="249" width="5" height="23" fill="#ff0000"/>
<rect x="1141" y="232" width="1" height="25" fill="#ff0000"/>
<rect x="1139" y="233" width="5" height="17" fill="#ff0000"/>
<rect x="1149" y="227" width="1" height="53" fill="#00ff7f"/>
<rect x="1147" y="233" width="5" height="45" fill="#00ff7f"/>
<rect x="1157" y="236" width="1" height="42" fill="#ff0000"/>
<rect x="1155" y="243" width="5" height="35" fill="#ff0000"/>
<rect x="1165" y="218" width="1" height="28" fill="#ff0000"/>
<rect x="1163" y="236" width="5" height="8" fill="#ff0000"/>
<rect x="1173" y="194" width="1" height="44" fill="#ff0000"/>
<rect x="1171" y="198" width="5" height="38" fill="#ff0000"/>
<rect x="1181" y="193" width="1" height="13" fill="#00ff7f"/>
<rect x="1179" y="198" width="5" height="4" fill="#00ff7f"/>
<rect x="1189" y="201" width="1" height="15" fill="#00ff7f"/>
<rect x="1187" y="201" width="5" height="2" fill="#00ff7f"/>
<rect x="1197" y="191" width="1" height="19" fill="#ff0000"/>
<rect x="1195" y="201" width="5" height="2" fill="#ff0000"/>
<rect x="1205" y="174" width="1" height="41" fill="#ff0000"/>
<rect x="1203" y="190" width="5" height="12" fill="#ff0000"/>
<rect x="1213" y="188" width="1" height="61" fill="#00ff7f"/>
<rect x="1211" y="190" width="5" height="42" fill="#00ff7f"/>
<rect x="1221" y="218" width="1" height="29" fill="#00ff7f"/>
<rect x="1219" y="230" width="5" height="10" fill="#00ff7f"/>
<rect x="1229" y="219" width="1" height="21" fill="#ff0000"/>
<rect x="1227" y="221" width="5" height="19" fill="#ff0000"/>
<rect x="1237" y="214" width="1" height="12" fill="#ff0000"/>
<rect x="1235" y="216" width="5" height="6" fill="#ff0000"/>
<rect x="1245" y="208" width="1" height="15" fill="#ff0000"/>
<rect x="1243" y="209" width="5" height="8" fill="#ff0000"/>
<rect x="1253" y="202" width="1" height="21" fill="#00ff7f"/>
<rect x="1251" y="209" width="5" height="7" fill="#00ff7f"/>
<rect x="1261" y="192" width="1" height="27" fill="#ff0000"/>
<rect x="1259" y="194" width="5" height="22" fill="#ff0000"/>
<rect x="1269" y="178" width="1" height="18" fill="#ff0000"/>
<rect x="1267" y="187" width="5" height="9" fill="#ff0000"/>
<rect x="1277" y="187" width="1" height="11" fill="#00ff7f"/>
<rect x="1275" y="188" width="5" height="10" fill="#00ff7f"/>
<rect x="1285" y="189" width="1" height="11" fill="#ff0000"/>
<rect x="1283" y="196" width="5" height="2" fill="#ff0000"/>
<rect x="1293" y="196" width="1" height="20" fill="#00ff7f"/>
<rect x="1291" y="196" width="5" height="15" fill="#00ff7f"/>
<rect x="1301" y="205" width="1" height="17" fill="#00ff00"/>
<rect x="1299" y="210" width="5" height="1" fill="#00ff00"/>
<rect x="1309" y="199" width="1" height="34" fill="#00ff7f"/>
<rect x="1307" y="210" width="5" height="17" fill="#00ff7f"/>
<rect x="1317" y="223" width="1" height="15" fill="#ff0000"/>
<rect x="1315" y="224" width="5" height="3" fill="#ff0000"/>
<rect x="1325" y="219" width="1" height="28" fill="#00ff7f"/>
<rect x="1323" y="224" width="5" height="22" fill="#00ff7f"/>
<rect x="1333" y="238" width="1" height="11" fill="#ff0000"/>
<rect x="1331" y="243" width="5" height="3" fill="#ff0000"/>
<rect x="1341" y="237" width="1" height="33" fill="#00ff7f"/>
<rect x="1339" y="243" width="5" height="20" fill="#00ff7f"/>
<rect x="1349" y="247" width="1" height="32" fill="#ff0000"/>
<rect x="1347" y="250" width="5" height="12" fill="#ff0000"/>
<rect x="1357" y="249" width="1" height="31" fill="#00ff7f"/>
<rect x="1355" y="250" width="5" height="29" fill="#00ff7f"/>
<rect x="1365" y="243" width="1" height="39" fill="#ff0000"/>
<rect x="1363" y="252" width="5" height="27" fill="#ff0000"/>
<rect x="1373" y="303" width="1" height="15" fill="#00ff7f"/>
<rect x="1371" y="307" width="5" height="9" fill="#00ff7f"/>
<rect x="1381" y="308" width="1" height="11" fill="#00ff7f"/>
<rect x="1379" y="316" width="5" height="2" fill="#00ff7f"/>
<rect x="1389" y="317" width="1" height="2" fill="#ff0000"/>
<rect x="1387" y="317" width="5" height="1" fill="#ff0000"/>
<rect x="1397" y="315" width="1" height="4" fill="#ff0000"/>
<rect x="1395" y="317" width="5" height="2" fill="#ff0000"/>
<rect x="1405" y="309" width="1" height="56" fill="#ff0000"/>
<rect x="1403" y="316" width="5" height="5" fill="#ff0000"/>
<rect x="1413" y="309" width="1" height="50" fill="#00ff7f"/>
<rect x="1411" y="316" width="5" height="39" fill="#00ff7f"/>
<rect x="1421" y="321" width="1" height="53" fill="#ff0000"/>
<rect x="1419" y="328" width="5" height="27" fill="#ff0000"/>
<rect x="1429" y="312" width="1" height="29" fill="#ff0000"/>
<rect x="1427" y="317" width="5" height="10" fill="#ff0000"/>
<rect x="1437" y="303" width="1" height="19" fill="#00ff7f"/>
<rect x="1435" y="317" width="5" height="2" fill="#00ff7f"/>
<rect x="1445" y="290" width="1" height="34" fill="#ff0000"/>
<rect x="1443" y="301" width="5" height="18" fill="#ff0000"/>
<rect x="1453" y="297" width="1" height="61" fill="#00ff7f"/>
<rect x="1451" y="301" width="5" height="49" fill="#00ff7f"/>
<rect x="1461" y="290" width="1" height="59" fill="#ff0000"/>
<rect x="1459" y="290" width="5" height="59" fill="#ff0000"/>
<rect x="1469" y="288" width="1" height="33" fill="#00ff7f"/>
<rect x="1467" y="289" width="5" height="25" fill="#00ff7f"/>
<rect x="1477" y="308" width="1" height="22" fill="#00ff7f"/>
<rect x="1475" y="314" width="5" height="8" fill="#00ff7f"/>
<rect x="1485" y="320" width="1" height="16" fill="#00ff7f"/>
<rect x="1483" y="320" width="5" height="2" fill="#00ff7f"/>
<rect x="1493" y="309" width="1" height="26" fill="#00ff7f"/>
<rect x="1491" y="321" width="5" height="9" fill="#00ff7f"/>
<rect x="1501" y="319" width="1" height="27" fill="#00ff7f"/>
<rect x="1499" y="329" width="5" height="10" fill="#00ff7f"/>
<rect x="1509" y="325" width="1" height="45" fill="#00ff7f"/>
<rect x="1507" y="337" width="5" height="17" fill="#00ff7f"/>
<rect x="1517" y="338" width="1" height="21" fill="#00ff7f"/>
<rect x="1515" y="353" width="5" height="4" fill="#00ff7f"/>
<rect x="1525" y="352" width="1" height="61" fill="#00ff7f"/>
<rect x="1523" y="356" width="5" height="53" fill="#00ff7f"/>
<rect x="1533" y="385" width="1" height="25" fill="#ff0000"/>
<rect x="1531" y="402" width="5" height="7" fill="#ff0000"/>
<rect x="1541" y="396" width="1" height="20" fill="#00ff7f"/>
<rect x="1539" y="402" width="5" height="13" fill="#00ff7f"/>
<rect x="1549" y="409" width="1" height="56" fill="#00ff7f"/>
<rect x="1547" y="414" width="5" height="36" fill="#00ff7f"/>
<rect x="1557" y="389" width="1" height="87" fill="#00ff7f"/>
<rect x="1555" y="450" width="5" height="26" fill="#00ff7f"/>
<rect x="1565" y="467" width="1" height="31" fill="#00ff7f"/>
<rect x="1563" y="475" width="5" height="13" fill="#00ff7f"/>
<rect x="1573" y="477" width="1" height="32" fill="#00ff7f"/>
<rect x="1571" y="487" width="5" height="20" fill="#00ff7f"/>
<rect x="1581" y="419" width="1" height="89" fill="#ff0000"/>
<rect x="1579" y="428" width="5" height="79" fill="#ff0000"/>
<rect x="1589" y="418" width="1" height="33" fill="#ff0000"/>
<rect x="1587" y="418" width="5" height="11" fill="#ff0000"/>
<rect x="1597" y="400" width="1" height="67" fill="#00ff7f"/>
<rect x="1595" y="418" width="5" height="32" fill="#00ff7f"/>
<rect x="1605" y="369" width="1" height="92" fill="#ff0000"/>
<rect x="1603" y="370" width="5" height="80" fill="#ff0000"/>
<rect x="1613" y="368" width="1" height="9" fill="#00ff7f"/>
<rect x="1611" y="369" width="5" height="4" fill="#00ff7f"/>
<rect x="1621" y="430" width="1" height="2" fill="#00ff00"/>
<rect x="1619" y="431" width="5" height="1" fill="#00ff00"/>
<rect x="1629" y="430" width="1" height="2" fill="#ff0000"/>
<rect x="1627" y="430" width="5" height="1" fill="#ff0000"/>
<rect x="1637" y="432" width="1" height="92" fill="#00ff7f"/>
<rect x="1635" y="432" width="5" height="14" fill="#00ff7f"/>
<rect x="1645" y="442" width="1" height="73" fill="#00ff7f"/>
<rect x="1643" y="445" width="5" height="65" fill="#00ff7f"/>
<rect x="1653" y="487" width="1" height="25" fill="#ff0000"/>
<rect x="1651" y="501" width="5" height="10" fill="#ff0000"/>
<rect x="1661" y="483" width="1" height="22" fill="#ff0000"/>
<rect x="1659" y="495" width="5" height="7" fill="#ff0000"/>
<path d="M861 93h93v1h-93zM842 94h19v1h-19zM954 94h32v1h-32zM814 95h28v1h-28zM986 95h24v1h-24zM789 96h25v1h-25zM1010 96h16v1h-16zM765 97h24v1h-24zM1026 97h26v1h-26zM742 98h23v1h-23zM1052 98h4v1h-4zM717 99h25v1h-25zM1056 99h21v1h-21zM693 100h24v1h-24zM1077 100h8v1h-8zM665 101h28v1h-28zM1085 101h10v1h-10zM614 102h51v1h-51zM1095 102h9v1h-9zM594 103h20v1h-20zM1104 103h8v1h-8zM573 104h21v1h-21zM1112 104h9v1h-9zM545 105h28v1h-28zM1121 105h9v1h-9zM518 106h27v1h-27zM1130 106h10v1h-10zM490 107h28v1h-28zM1140 107h11v1h-11zM461 108h29v1h-29zM1151 108h10v1h-10zM441 109h20v1h-20zM1161 109h11v1h-11zM402 110h39v1h-39zM1172 110h17v1h-17zM365 111h37v1h-37zM1189 111h22v1h-22zM329 112h36v1h-36zM1211 112h18v1h-18zM302 113h27v1h-27zM1229 113h12v1h-12zM274 114h28v1h-28zM1241 114h13v1h-13zM241 115h33v1h-33zM1254 115h12v1h-12zM221 116h20v1h-20zM1266 116h13v1h-13zM186 117h35v1h-35zM1279 117h12v1h-12zM112 118h74v1h-74zM1291 118h13v1h-13zM73 119h39v1h-39zM1304 119h11v1h-11zM33 120h40v1h-40zM1315 120h10v1h-10zM5 121h28v1h-28zM1325 121h10v1h-10zM1335 122h10v1h-10zM1345 123h10v1h-10zM1355 124h9v1h-9zM1364 125h7v1h-7zM1371 126h7v1h-7zM1378 127h7v1h-7zM1385 128h8v1h-8zM1393 129h7v1h-7zM1400 130h7v1h-7zM1407 131h7v1h-7zM1414 132h7v1h-7zM1421 133h7v1h-7zM1428 134h7v1h-7zM1435 135h8v1h-8zM1443 136h7v1h-7zM1450 137h7v1h-7zM1457 138h7v1h-7zM1464 139h8v1h-8zM1472 140h7v1h-7zM1479 141h8v1h-8zM1487 142h8v1h-8zM1495 143h8v1h-8zM1503 144h9v1h-9zM1512 145h7v1h-7zM1519 146h6v1h-6zM1525 147h5v1h-5zM1530 148h5v1h-5zM1535 149h6v1h-6zM1541 150h5v1h-5zM1546 151h4v1h-4zM1550 152h5v1h-5zM1555 153h4v1h-4zM1559 154h5v1h-5zM1564 155h4v1h-4zM1568 156h5v1h-5zM1573 157h4v1h-4zM1577 158h4v1h-4zM1581 159h5v1h-5zM1586 160h4v1h-4zM1590 161h4v1h-4zM1594 162h5v1h-5zM1599 163h5v1h-5zM1604 164h5v1h-5zM1609 165h6v1h-6zM1615 166h5v1h-5zM1620 167h5v1h-5zM1625 168h4v1h-4zM1629 169h5v1h-5zM1634 170h4v1h-4zM1638 171h5v1h-5zM1643 172h4v1h-4zM1647 173h4v1h-4zM1651 174h4v1h-4zM1655 175h4v1h-4zM1659 176h2v1h-2z" fill="#ff0000"/>
<path d="M822 68h49v1h-49zM798 69h24v1h-24zM871 69h13v1h-13zM778 70h20v1h-20zM884 70h12v1h-12zM758 71h20v1h-20zM896 71h12v1h-12zM730 72h28v1h-28zM908 72h10v1h-10zM708 73h22v1h-22zM918 73h8v1h-8zM696 74h12v1h-12zM926 74h8v1h-8zM677 75h19v1h-19zM934 75h8v1h-8zM657 76h20v1h-20zM942 76h7v1h-7zM645 77h12v1h-12zM949 77h5v1h-5zM638 78h7v1h-7zM954 78h4v1h-4zM630 79h8v1h-8zM958 79h5v1h-5zM622 80h8v1h-8zM963 80h5v1h-5zM614 81h8v1h-8zM968 81h5v1h-5zM606 82h8v1h-8zM973 82h5v1h-5zM598 83h8v1h-8zM978 83h4v1h-4zM591 84h7v1h-7zM982 84h5v1h-5zM586 85h5v1h-5zM987 85h5v1h-5zM580 86h6v1h-6zM992 86h5v1h-5zM573 87h7v1h-7zM997 87h5v1h-5zM565 88h8v1h-8zM1002 88h4v1h-4zM557 89h8v1h-8zM1006 89h5v1h-5zM549 90h8v1h-8zM1011 90h5v1h-5zM541 91h8v1h-8zM1016 91h4v1h-4zM533 92h8v1h-8zM1020 92h2v1h-2zM522 93h11v1h-11zM1022 93h2v1h-2zM510 94h12v1h-12zM1024 94h3v1h-3zM502 95h8v1h-8zM1027 95h2v1h-2zM494 96h8v1h-8zM1029 96h3v1h-3zM486 97h8v1h-8zM1032 97h4v1h-4zM5 98h14v1h-14zM478 98h8v1h-8zM1036 98h4v1h-4zM19 99h20v1h-20zM467 99h11v1h-11zM1040 99h3v1h-3zM39 100h12v1h-12zM455 100h12v1h-12zM1043 100h4v1h-4zM51 101h16v1h-16zM445 101h10v1h-10zM1047 101h3v1h-3zM67 102h20v1h-20zM437 102h8v1h-8zM1050 102h3v1h-3zM87 103h15v1h-15zM410 103h27v1h-27zM1053 103h4v1h-4zM102 104h8v1h-8zM394 104h16v1h-16zM1057 104h3v1h-3zM110 105h8v1h-8zM380 105h14v1h-14zM1060 105h2v1h-2zM118 106h10v1h-10zM368 106h12v1h-12zM1062 106h2v1h-2zM128 107h12v1h-12zM353 107h15v1h-15zM1064 107h2v1h-2zM140 108h14v1h-14zM339 108h14v1h-14zM1066 108h2v1h-2zM154 109h14v1h-14zM328 109h11v1h-11zM1068 109h3v1h-3zM168 110h12v1h-12zM318 110h10v1h-10zM1071 110h2v1h-2zM180 111h21v1h-21zM293 111h25v1h-25zM1073 111h2v1h-2zM201 112h48v1h-48zM265 112h28v1h-28zM1075 112h2v1h-2zM249 113h16v1h-16zM1077 113h2v1h-2zM1079 114h2v1h-2zM1081 115h1v1h-1zM1082 116h2v1h-2zM1084 117h2v1h-2zM1086 118h2v1h-2zM1088 119h2v1h-2zM1090 120h2v1h-2zM1092 121h2v1h-2zM1094 122h2v1h-2zM1096 123h3v1h-3zM1099 124h2v1h-2zM1101 125h2v1h-2zM1103 126h2v1h-2zM1105 127h2v1h-2zM1107 128h2v1h-2zM1109 129h3v1h-3zM1112 130h2v1h-2zM1114 131h2v1h-2zM1116 132h2v1h-2zM1118 133h2v1h-2zM1120 134h2v1h-2zM1122 135h3v1h-3zM1125 136h2v1h-2zM1127 137h2v1h-2zM1129 138h2v1h-2zM1131 139h2v1h-2zM1133 140h3v1h-3zM1136 141h2v1h-2zM1138 142h3v1h-3zM1141 143h2v1h-2zM1143 144h3v1h-3zM1146 145h3v1h-3zM1149 146h3v1h-3zM1152 147h3v1h-3zM1155 148h3v1h-3zM1158 149h4v1h-4zM1162 150h3v1h-3zM1165 151h3v1h-3zM1168 152h3v1h-3zM1171 153h3v1h-3zM1174 154h3v1h-3zM1177 155h3v1h-3zM1180 156h3v1h-3zM1183 157h4v1h-4zM1187 158h3v1h-3zM1190 159h3v1h-3zM1193 160h3v1h-3zM1196 161h3v1h-3zM1199 162h2v1h-2zM1201 163h3v1h-3zM1204 164h3v1h-3zM1207 165h3v1h-3zM1210 166h3v1h-3zM1213 167h2v1h-2zM1215 168h3v1h-3zM1218 169h3v1h-3zM1221 170h3v1h-3zM1224 171h2v1h-2zM1226 172h3v1h-3zM1229 173h3v1h-3zM1232 174h3v1h-3zM1235 175h3v1h-3zM1238 176h2v1h-2zM1240 177h3v1h-3zM1243 178h3v1h-3zM1246 179h4v1h-4zM1250 180h3v1h-3zM1253 181h4v1h-4zM1257 182h4v1h-4zM1261 183h3v1h-3zM1264 184h4v1h-4zM1268 185h3v1h-3zM1271 186h4v1h-4zM1275 187h3v1h-3zM1278 188h4v1h-4zM1282 189h4v1h-4zM1286 190h3v1h-3zM1289 191h4v1h-4zM1293 192h3v1h-3zM1296 193h4v1h-4zM1300 194h3v1h-3zM1303 195h4v1h-4zM1307 196h4v1h-4zM1311 197h3v1h-3zM1314 198h4v1h-4zM1318 199h3v1h-3zM1321 200h3v1h-3zM1324 201h3v1h-3zM1327 202h3v1h-3zM1330 203h4v1h-4zM1334 204h3v1h-3zM1337 205h3v1h-3zM1340 206h3v1h-3zM1343 207h3v1h-3zM1346 208h3v1h-3zM1349 209h3v1h-3zM1352 210h4v1h-4zM1356 211h3v1h-3zM1359 212h3v1h-3zM1362 213h4v1h-4zM1366 214h2v1h-2zM1368 215h2v1h-2zM1370 216h2v1h-2zM1372 217h2v1h-2zM1374 218h2v1h-2zM1376 219h2v1h-2zM1378 220h2v1h-2zM1380 221h2v1h-2zM1382 222h2v1h-2zM1384 223h2v1h-2zM1386 224h2v1h-2zM1388 225h2v1h-2zM1390 226h3v1h-3zM1393 227h3v1h-3zM1396 228h2v1h-2zM1398 229h3v1h-3zM1401 230h3v1h-3zM1404 231h3v1h-3zM1407 232h3v1h-3zM1410 233h2v1h-2zM1412 234h3v1h-3zM1415 235h3v1h-3zM1418 236h2v1h-2zM1420 237h3v1h-3zM1423 238h3v1h-3zM1426 239h2v1h-2zM1428 240h3v1h-3zM1431 241h3v1h-3zM1434 242h3v1h-3zM1437 243h3v1h-3zM1440 244h4v1h-4zM1444 245h3v1h-3zM1447 246h3v1h-3zM1450 247h3v1h-3zM1453 248h3v1h-3zM1456 249h4v1h-4zM1460 250h3v1h-3zM1463 251h4v1h-4zM1467 252h4v1h-4zM1471 253h3v1h-3zM1474 254h4v1h-4zM1478 255h4v1h-4zM1482 256h4v1h-4zM1486 257h4v1h-4zM1490 258h4v1h-4zM1494 259h4v1h-4zM1498 260h4v1h-4zM1502 261h4v1h-4zM1506 262h4v1h-4zM1510 263h4v1h-4zM1514 264h4v1h-4zM1518 265h4v1h-4zM1522 266h4v1h-4zM1526 267h4v1h-4zM1530 268h4v1h-4zM1534 269h4v1h-4zM1538 270h4v1h-4zM1542 271h2v1h-2zM1544 272h2v1h-2zM1546 273h2v1h-2zM1548 274h2v1h-2zM1550 275h3v1h-3zM1553 276h2v1h-2zM1555 277h2v1h-2zM1557 278h2v1h-2zM1559 279h2v1h-2zM1561 280h2v1h-2zM1563 281h2v1h-2zM1565 282h2v1h-2zM1567 283h2v1h-2zM1569 284h2v1h-2zM1571 285h1v1h-1zM1572 286h2v1h-2zM1574 287h2v1h-2zM1576 288h2v1h-2zM1578 289h2v1h-2zM1580 290h2v1h-2zM1582 291h2v1h-2zM1584 292h3v1h-3zM1587 293h3v1h-3zM1590 294h2v1h-2zM1592 295h3v1h-3zM1595 296h3v1h-3zM1598 297h2v1h-2zM1600 298h3v1h-3zM1603 299h2v1h-2zM1605 300h3v1h-3zM1608 301h3v1h-3zM1611 302h2v1h-2zM1613 303h2v1h-2zM1615 304h2v1h-2zM1617 305h2v1h-2zM1619 306h2v1h-2zM1621 307h2v1h-2zM1623 308h2v1h-2zM1625 309h2v1h-2zM1627 310h2v1h-2zM1629 311h2v1h-2zM1631 312h2v1h-2zM1633 313h2v1h-2zM1635 314h2v1h-2zM1637 315h2v1h-2zM1639 316h1v1h-1zM1640 317h2v1h-2zM1642 318h1v1h-1zM1643 319h2v1h-2zM1645 320h1v1h-1zM1646 321h2v1h-2zM1648 322h1v1h-1zM1649 323h2v1h-2zM1651 324h1v1h-1zM1652 325h2v1h-2zM1654 326h1v1h-1zM1655 327h2v1h-2zM1657 328h1v1h-1zM1658 329h2v1h-2zM1660 330h1v1h-1z" fill="#ff00ff"/>
<path d="M778 64h34v1h-34zM697 65h81v1h-81zM812 65h4v1h-4zM657 66h40v1h-40zM816 66h10v1h-10zM630 67h27v1h-27zM826 67h26v1h-26zM863 67h3v1h-3zM622 68h8v1h-8zM852 68h4v1h-4zM860 68h3v1h-3zM866 68h2v1h-2zM590 69h32v1h-32zM856 69h4v1h-4zM868 69h3v1h-3zM582 70h8v1h-8zM871 70h6v1h-6zM574 71h8v1h-8zM877 71h8v1h-8zM565 72h9v1h-9zM885 72h6v1h-6zM558 73h7v1h-7zM891 73h3v1h-3zM553 74h5v1h-5zM894 74h2v1h-2zM547 75h6v1h-6zM896 75h3v1h-3zM537 76h10v1h-10zM899 76h3v1h-3zM526 77h11v1h-11zM902 77h3v1h-3zM518 78h8v1h-8zM905 78h3v1h-3zM506 79h12v1h-12zM908 79h2v1h-2zM486 80h20v1h-20zM910 80h3v1h-3zM466 81h20v1h-20zM913 81h3v1h-3zM451 82h15v1h-15zM916 82h2v1h-2zM439 83h12v1h-12zM918 83h3v1h-3zM422 84h17v1h-17zM921 84h2v1h-2zM407 85h15v1h-15zM923 85h3v1h-3zM400 86h7v1h-7zM926 86h2v1h-2zM394 87h6v1h-6zM928 87h2v1h-2zM367 88h27v1h-27zM930 88h3v1h-3zM361 89h6v1h-6zM933 89h2v1h-2zM355 90h6v1h-6zM935 90h3v1h-3zM350 91h5v1h-5zM938 91h2v1h-2zM344 92h6v1h-6zM940 92h3v1h-3zM340 93h4v1h-4zM943 93h2v1h-2zM336 94h4v1h-4zM945 94h2v1h-2zM333 95h3v1h-3zM947 95h2v1h-2zM329 96h4v1h-4zM949 96h2v1h-2zM325 97h4v1h-4zM951 97h2v1h-2zM322 98h3v1h-3zM953 98h2v1h-2zM318 99h4v1h-4zM955 99h2v1h-2zM315 100h3v1h-3zM957 100h2v1h-2zM311 101h4v1h-4zM959 101h2v1h-2zM307 102h4v1h-4zM961 102h2v1h-2zM303 103h4v1h-4zM963 103h2v1h-2zM299 104h4v1h-4zM965 104h2v1h-2zM296 105h3v1h-3zM967 105h1v1h-1zM293 106h3v1h-3zM968 106h2v1h-2zM290 107h3v1h-3zM970 107h1v1h-1zM287 108h3v1h-3zM971 108h2v1h-2zM284 109h3v1h-3zM973 109h1v1h-1zM281 110h3v1h-3zM974 110h2v1h-2zM5 111h4v1h-4zM278 111h3v1h-3zM976 111h1v1h-1zM9 112h8v1h-8zM275 112h3v1h-3zM977 112h2v1h-2zM17 113h8v1h-8zM269 113h6v1h-6zM979 113h1v1h-1zM25 114h8v1h-8zM85 114h32v1h-32zM262 114h7v1h-7zM980 114h2v1h-2zM33 115h6v1h-6zM79 115h6v1h-6zM117 115h8v1h-8zM257 115h5v1h-5zM982 115h2v1h-2zM39 116h16v1h-16zM72 116h7v1h-7zM125 116h8v1h-8zM251 116h6v1h-6zM984 116h2v1h-2zM55 117h17v1h-17zM133 117h25v1h-25zM237 117h14v1h-14zM986 117h2v1h-2zM158 118h8v1h-8zM221 118h16v1h-16zM988 118h2v1h-2zM166 119h7v1h-7zM214 119h7v1h-7zM990 119h1v1h-1zM173 120h6v1h-6zM210 120h4v1h-4zM991 120h2v1h-2zM179 121h31v1h-31zM993 121h2v1h-2zM995 122h2v1h-2zM997 123h2v1h-2zM999 124h2v1h-2zM1001 125h1v1h-1zM1002 126h2v1h-2zM1004 127h2v1h-2zM1006 128h1v1h-1zM1007 129h2v1h-2zM1009 130h2v1h-2zM1011 131h1v1h-1zM1012 132h2v1h-2zM1014 133h2v1h-2zM1016 134h1v1h-1zM1017 135h2v1h-2zM1019 136h2v1h-2zM1021 137h1v1h-1zM1022 138h2v1h-2zM1024 139h2v1h-2zM1026 140h1v1h-1zM1027 141h1v1h-1zM1028 142h1v1h-1zM1029 143h1v1h-1zM1030 144h1v1h-1zM1031 145h1v1h-1zM1032 146h2v1h-2zM1034 147h2v1h-2zM1036 148h1v1h-1zM1037 149h2v1h-2zM1039 150h2v1h-2zM1041 151h1v1h-1zM1042 152h2v1h-2zM1044 153h2v1h-2zM1046 154h1v1h-1zM1047 155h2v1h-2zM1049 156h2v1h-2zM1051 157h1v1h-1zM1052 158h2v1h-2zM1054 159h2v1h-2zM1056 160h1v1h-1zM1057 161h2v1h-2zM1059 162h2v1h-2zM1061 163h1v1h-1zM1062 164h2v1h-2zM1064 165h1v1h-1zM1065 166h2v1h-2zM1067 167h2v1h-2zM1069 168h1v1h-1zM1070 169h1v1h-1zM1071 170h1v1h-1zM1072 171h1v1h-1zM1073 172h1v1h-1zM1074 173h1v1h-1zM1075 174h1v1h-1zM1076 175h1v1h-1zM1077 176h1v1h-1zM1078 177h1v1h-1zM1079 178h1v1h-1zM1080 179h1v1h-1zM1081 180h1v1h-1zM1082 181h1v1h-1zM1083 182h2v1h-2zM1085 183h1v1h-1zM1086 184h1v1h-1zM1087 185h2v1h-2zM1089 186h1v1h-1zM1090 187h1v1h-1zM1091 188h2v1h-2zM1093 189h1v1h-1zM1094 190h1v1h-1zM1095 191h1v1h-1zM1096 192h1v1h-1zM1097 193h1v1h-1zM1098 194h1v1h-1zM1099 195h1v1h-1zM1100 196h1v1h-1zM1101 197h1v1h-1zM1102 198h1v1h-1zM1103 199h1v1h-1zM1104 200h1v1h-1zM1105 201h1v1h-1zM1106 202h1v1h-1zM1107 203h2v1h-2zM1109 204h1v1h-1zM1110 205h1v1h-1zM1111 206h2v1h-2zM1113 207h1v1h-1zM1114 208h1v1h-1zM1115 209h2v1h-2zM1117 210h1v1h-1zM1118 211h1v1h-1zM1119 212h2v1h-2zM1313 212h23v1h-23zM1121 213h1v1h-1zM1309 213h4v1h-4zM1336 213h3v1h-3zM1122 214h1v1h-1zM1304 214h5v1h-5zM1339 214h2v1h-2zM1123 215h2v1h-2zM1298 215h6v1h-6zM1341 215h2v1h-2zM1125 216h2v1h-2zM1293 216h5v1h-5zM1343 216h3v1h-3zM1127 217h2v1h-2zM1290 217h3v1h-3zM1346 217h2v1h-2zM1129 218h2v1h-2zM1286 218h4v1h-4zM1348 218h3v1h-3zM1131 219h2v1h-2zM1283 219h3v1h-3zM1351 219h3v1h-3zM1133 220h2v1h-2zM1281 220h2v1h-2zM1354 220h2v1h-2zM1135 221h2v1h-2zM1279 221h2v1h-2zM1356 221h3v1h-3zM1137 222h2v1h-2zM1277 222h2v1h-2zM1359 222h3v1h-3zM1139 223h2v1h-2zM1275 223h2v1h-2zM1362 223h3v1h-3zM1141 224h2v1h-2zM1273 224h2v1h-2zM1365 224h2v1h-2zM1143 225h2v1h-2zM1271 225h2v1h-2zM1367 225h1v1h-1zM1145 226h2v1h-2zM1269 226h2v1h-2zM1368 226h1v1h-1zM1147 227h2v1h-2zM1267 227h2v1h-2zM1369 227h1v1h-1zM1149 228h2v1h-2zM1265 228h2v1h-2zM1370 228h1v1h-1zM1151 229h1v1h-1zM1263 229h2v1h-2zM1371 229h1v1h-1zM1152 230h2v1h-2zM1261 230h2v1h-2zM1372 230h2v1h-2zM1154 231h2v1h-2zM1259 231h2v1h-2zM1374 231h2v1h-2zM1156 232h3v1h-3zM1257 232h2v1h-2zM1376 232h2v1h-2zM1159 233h3v1h-3zM1254 233h3v1h-3zM1378 233h3v1h-3zM1162 234h2v1h-2zM1249 234h5v1h-5zM1381 234h2v1h-2zM1164 235h4v1h-4zM1245 235h4v1h-4zM1383 235h3v1h-3zM1168 236h6v1h-6zM1243 236h2v1h-2zM1386 236h2v1h-2zM1174 237h8v1h-8zM1201 237h8v1h-8zM1241 237h2v1h-2zM1388 237h2v1h-2zM1182 238h19v1h-19zM1209 238h3v1h-3zM1239 238h2v1h-2zM1390 238h2v1h-2zM1212 239h4v1h-4zM1235 239h4v1h-4zM1392 239h2v1h-2zM1216 240h19v1h-19zM1394 240h2v1h-2zM1396 241h1v1h-1zM1397 242h2v1h-2zM1399 243h1v1h-1zM1400 244h2v1h-2zM1402 245h2v1h-2zM1404 246h1v1h-1zM1405 247h1v1h-1zM1406 248h1v1h-1zM1407 249h1v1h-1zM1408 250h1v1h-1zM1409 251h2v1h-2zM1411 252h1v1h-1zM1412 253h1v1h-1zM1413 254h1v1h-1zM1414 255h1v1h-1zM1415 256h2v1h-2zM1417 257h1v1h-1zM1418 258h2v1h-2zM1420 259h1v1h-1zM1421 260h2v1h-2zM1423 261h1v1h-1zM1424 262h2v1h-2zM1426 263h1v1h-1zM1427 264h2v1h-2zM1429 265h1v1h-1zM1430 266h2v1h-2zM1432 267h1v1h-1zM1433 268h2v1h-2zM1435 269h1v1h-1zM1436 270h2v1h-2zM1438 271h1v1h-1zM1439 272h2v1h-2zM1441 273h1v1h-1zM1442 274h1v1h-1zM1443 275h2v1h-2zM1445 276h1v1h-1zM1446 277h1v1h-1zM1447 278h2v1h-2zM1449 279h1v1h-1zM1450 280h1v1h-1zM1451 281h2v1h-2zM1453 282h1v1h-1zM1454 283h1v1h-1zM1455 284h2v1h-2zM1457 285h2v1h-2zM1459 286h1v1h-1zM1460 287h2v1h-2zM1462 288h2v1h-2zM1464 289h2v1h-2zM1466 290h1v1h-1zM1467 291h2v1h-2zM1469 292h2v1h-2zM1471 293h2v1h-2zM1473 294h2v1h-2zM1475 295h2v1h-2zM1477 296h2v1h-2zM1479 297h1v1h-1zM1480 298h2v1h-2zM1482 299h2v1h-2zM1484 300h2v1h-2zM1486 301h2v1h-2zM1488 302h2v1h-2zM1490 303h2v1h-2zM1492 304h2v1h-2zM1494 305h2v1h-2zM1496 306h2v1h-2zM1498 307h2v1h-2zM1500 308h1v1h-1zM1501 309h2v1h-2zM1503 310h2v1h-2zM1505 311h2v1h-2zM1507 312h2v1h-2zM1509 313h1v1h-1zM1510 314h2v1h-2zM1512 315h1v1h-1zM1513 316h1v1h-1zM1514 317h2v1h-2zM1516 318h1v1h-1zM1517 319h1v1h-1zM1518 320h2v1h-2zM1520 321h1v1h-1zM1521 322h1v1h-1zM1522 323h2v1h-2zM1524 324h1v1h-1zM1525 325h1v1h-1zM1526 326h2v1h-2zM1528 327h1v1h-1zM1529 328h1v1h-1zM1530 329h2v1h-2zM1532 330h1v1h-1zM1533 331h2v1h-2zM1535 332h1v1h-1zM1536 333h1v1h-1zM1537 334h2v1h-2zM1539 335h1v1h-1zM1540 336h1v1h-1zM1541 337h2v1h-2zM1543 338h1v1h-1zM1544 339h1v1h-1zM1545 340h2v1h-2zM1547 341h1v1h-1zM1548 342h1v1h-1zM1549 343h2v1h-2zM1551 344h1v1h-1zM1552 345h1v1h-1zM1553 346h1v1h-1zM1554 347h1v1h-1zM1555 348h1v1h-1zM1556 349h1v1h-1zM1556 350h1v1h-1zM1557 351h1v1h-1zM1558 352h1v1h-1zM1559 353h1v1h-1zM1560 354h1v1h-1zM1561 355h1v1h-1zM1562 356h1v1h-1zM1563 357h1v1h-1zM1564 358h1v1h-1zM1565 359h1v1h-1zM1566 360h1v1h-1zM1566 361h1v1h-1zM1567 362h1v1h-1zM1568 363h1v1h-1zM1569 364h1v1h-1zM1570 365h1v1h-1zM1571 366h1v1h-1zM1572 367h2v1h-2zM1574 368h2v1h-2zM1576 369h2v1h-2zM1578 370h2v1h-2zM1580 371h2v1h-2zM1582 372h2v1h-2zM1584 373h2v1h-2zM1586 374h2v1h-2zM1588 375h2v1h-2zM1590 376h2v1h-2zM1592 377h1v1h-1zM1593 378h1v1h-1zM1594 379h2v1h-2zM1596 380h1v1h-1zM1597 381h2v1h-2zM1599 382h2v1h-2zM1601 383h2v1h-2zM1603 384h2v1h-2zM1605 385h2v1h-2zM1607 386h3v1h-3zM1610 387h2v1h-2zM1612 388h2v1h-2zM1614 389h3v1h-3zM1617 390h2v1h-2zM1619 391h2v1h-2zM1621 392h1v1h-1zM1622 393h2v1h-2zM1624 394h1v1h-1zM1625 395h1v1h-1zM1626 396h1v1h-1zM1627 397h1v1h-1zM1628 398h2v1h-2zM1630 399h1v1h-1zM1631 400h1v1h-1zM1632 401h1v1h-1zM1633 402h1v1h-1zM1634 403h1v1h-1zM1635 404h1v1h-1zM1636 405h1v1h-1zM1637 406h1v1h-1zM1638 407h1v1h-1zM1639 408h1v1h-1zM1640 409h1v1h-1zM1641 410h1v1h-1zM1642 411h1v1h-1zM1643 412h1v1h-1zM1644 413h1v1h-1zM1645 414h1v1h-1zM1646 415h1v1h-1zM1647 416h1v1h-1zM1648 417h1v1h-1zM1649 418h1v1h-1zM1650 419h1v1h-1zM1651 420h1v1h-1zM1652 421h1v1h-1zM1653 422h1v1h-1zM1654 423h1v1h-1zM1655 424h1v1h-1zM1656 425h1v1h-1zM1657 426h1v1h-1zM1658 427h1v1h-1zM1659 428h1v1h-1zM1660 429h1v1h-1z" fill="#ffa500"/>
</g>
<rect x="5" y="354" width="1675" height="2" fill="#ff0000"/>
<rect x="5" y="401" width="1675" height="2" fill="#ff0000"/>
<rect x="5" y="450" width="1675" height="2" fill="#ff0000"/>
<rect x="5" y="489" width="1675" height="2" fill="#00ff7f"/>
<rect x="5" y="529" width="1675" height="2" fill="#4169e1"/>
<rect x="4" y="448" width="6" height="6" fill="#ff0000"/>
<rect x="6" y="450" width="2" height="2" fill="#fff"/>
<rect x="4" y="487" width="6" height="6" fill="#00ff7f"/>
<rect x="6" y="489" width="2" height="2" fill="#fff"/>
<rect x="1674" y="448" width="6" height="6" fill="#ff0000"/>
<rect x="1676" y="450" width="2" height="2" fill="#fff"/>
<rect x="1674" y="487" width="6" height="6" fill="#00ff7f"/>
<rect x="1676" y="489" width="2" height="2" fill="#fff"/>
<rect x="1682" y="490" width="43" height="11" fill="#000"/>
<text x="1685.5" y="499.3" font-size="10" fill="#fff" stroke="#fff" text-anchor="start" textLength="38.5" lengthAdjust="spacingAndGlyphs">2422.000</text>
<rect x="1682" y="349" width="43" height="11" fill="#ff0000"/>
<text x="1685.5" y="358.3" font-size="10" fill="#fff" stroke="#fff" text-anchor="start" textLength="38.5" lengthAdjust="spacingAndGlyphs">2735.000</text>
<rect x="1682" y="396" width="43" height="11" fill="#ff0000"/>
<text x="1685.5" y="405.3" font-size="10" fill="#fff" stroke="#fff" text-anchor="start" textLength="38.5" lengthAdjust="spacingAndGlyphs">2630.000</text>
<rect x="1682" y="445" width="43" height="11" fill="#ff0000"/>
<text x="1685.5" y="454.3" font-size="10" fill="#fff" stroke="#fff" text-anchor="start" textLength="38.5" lengthAdjust="spacingAndGlyphs">2520.000</text>
<rect x="1682" y="484" width="43" height="11" fill="#00ff7f"/>
<text x="1685.5" y="493.3" font-size="10" fill="#fff" stroke="#fff" text-anchor="start" textLength="38.5" lengthAdjust="spacingAndGlyphs">2435.000</text>
<rect x="1682" y="524" width="43" height="11" fill="#4169e1"/>
<text x="1685.5" y="533.3" font-size="10" fill="#fff" stroke="#fff" text-anchor="start" textLength="38.5" lengthAdjust="spacingAndGlyphs">2345.000</text>
<path d="M8,39.3 L15.4,39.3 L11.7,43.4 Z" fill="#000" shape-rendering="auto"/>
<text x="20" y="44" font-size="10" fill="#000" stroke="#000" text-anchor="start" textLength="212.5" lengthAdjust="spacingAndGlyphs">SP500-,H4&#160;&#160;2410.750 2450.500 2402.250 2422.000</text>
<text x="9.2" y="550" font-size="10" fill="#000" stroke="#000" text-anchor="start" textLength="66" lengthAdjust="spacingAndGlyphs">MACD(12,26,9)</text>
<text x="78.2" y="550" font-size="10" fill="#000" stroke="#000" text-anchor="start" textLength="35.5" lengthAdjust="spacingAndGlyphs">-85.1578</text>
<text x="118.4" y="550" font-size="10" fill="#000" stroke="#000" text-anchor="start" textLength="34.5" lengthAdjust="spacingAndGlyphs">-76.5151</text>
<text x="9.2" y="676" font-size="10" fill="#000" stroke="#000" text-anchor="start" textLength="31.8" lengthAdjust="spacingAndGlyphs">RSI(14)</text>
<text x="44.3" y="676" font-size="10" fill="#000" stroke="#000" text-anchor="start" textLength="33" lengthAdjust="spacingAndGlyphs">36.7608</text>
<text x="492.7" y="279.6" font-size="33.4" fill="#ff2200" text-anchor="start" textLength="238.2" lengthAdjust="spacingAndGlyphs" style="font-family:'Liberation Sans','Noto Sans CJK SC',sans-serif;stroke:none">多空转折点2435</text>
<g clip-path="url(#c2)">
<rect x="5" y="561" width="1" height="4" fill="#c0c0c0"/>
<rect x="13" y="561" width="1" height="3" fill="#c0c0c0"/>
<rect x="21" y="561" width="1" height="3" fill="#c0c0c0"/>
<rect x="29" y="561" width="1" height="3" fill="#c0c0c0"/>
<rect x="37" y="561" width="1" height="4" fill="#c0c0c0"/>
<rect x="45" y="561" width="1" height="6" fill="#c0c0c0"/>
<rect x="53" y="561" width="1" height="7" fill="#c0c0c0"/>
<rect x="61" y="561" width="1" height="8" fill="#c0c0c0"/>
<rect x="69" y="561" width="1" height="7" fill="#c0c0c0"/>
<rect x="77" y="561" width="1" height="5" fill="#c0c0c0"/>
<rect x="85" y="561" width="1" height="3" fill="#c0c0c0"/>
<rect x="93" y="561" width="1" height="1" fill="#c0c0c0"/>
<rect x="101" y="561" width="1" height="1" fill="#c0c0c0"/>
<rect x="109" y="561" width="1" height="3" fill="#c0c0c0"/>
<rect x="117" y="561" width="1" height="5" fill="#c0c0c0"/>
<rect x="125" y="561" width="1" height="7" fill="#c0c0c0"/>
<rect x="133" y="561" width="1" height="8" fill="#c0c0c0"/>
<rect x="141" y="561" width="1" height="8" fill="#c0c0c0"/>
<rect x="149" y="561" width="1" height="8" fill="#c0c0c0"/>
<rect x="157" y="561" width="1" height="7" fill="#c0c0c0"/>
<rect x="165" y="561" width="1" height="7" fill="#c0c0c0"/>
<rect x="173" y="561" width="1" height="6" fill="#c0c0c0"/>
<rect x="181" y="561" width="1" height="5" fill="#c0c0c0"/>
<rect x="189" y="561" width="1" height="4" fill="#c0c0c0"/>
<rect x="197" y="561" width="1" height="3" fill="#c0c0c0"/>
<rect x="205" y="561" width="1" height="1" fill="#c0c0c0"/>
<rect x="213" y="561" width="1" height="1" fill="#c0c0c0"/>
<rect x="221" y="560" width="1" height="2" fill="#c0c0c0"/>
<rect x="229" y="558" width="1" height="4" fill="#c0c0c0"/>
<rect x="237" y="557" width="1" height="5" fill="#c0c0c0"/>
<rect x="245" y="557" width="1" height="5" fill="#c0c0c0"/>
<rect x="253" y="554" width="1" height="8" fill="#c0c0c0"/>
<rect x="261" y="553" width="1" height="9" fill="#c0c0c0"/>
<rect x="269" y="551" width="1" height="11" fill="#c0c0c0"/>
<rect x="277" y="549" width="1" height="13" fill="#c0c0c0"/>
<rect x="285" y="548" width="1" height="14" fill="#c0c0c0"/>
<rect x="293" y="546" width="1" height="16" fill="#c0c0c0"/>
<rect x="301" y="545" width="1" height="17" fill="#c0c0c0"/>
<rect x="309" y="545" width="1" height="17" fill="#c0c0c0"/>
<rect x="317" y="545" width="1" height="17" fill="#c0c0c0"/>
<rect x="325" y="546" width="1" height="16" fill="#c0c0c0"/>
<rect x="333" y="546" width="1" height="16" fill="#c0c0c0"/>
<rect x="341" y="546" width="1" height="16" fill="#c0c0c0"/>
<rect x="349" y="548" width="1" height="14" fill="#c0c0c0"/>
<rect x="357" y="549" width="1" height="13" fill="#c0c0c0"/>
<rect x="365" y="550" width="1" height="12" fill="#c0c0c0"/>
<rect x="373" y="551" width="1" height="11" fill="#c0c0c0"/>
<rect x="381" y="553" width="1" height="9" fill="#c0c0c0"/>
<rect x="389" y="554" width="1" height="8" fill="#c0c0c0"/>
<rect x="397" y="555" width="1" height="7" fill="#c0c0c0"/>
<rect x="405" y="556" width="1" height="6" fill="#c0c0c0"/>
<rect x="413" y="555" width="1" height="7" fill="#c0c0c0"/>
<rect x="421" y="555" width="1" height="7" fill="#c0c0c0"/>
<rect x="429" y="554" width="1" height="8" fill="#c0c0c0"/>
<rect x="437" y="553" width="1" height="9" fill="#c0c0c0"/>
<rect x="445" y="553" width="1" height="9" fill="#c0c0c0"/>
<rect x="453" y="552" width="1" height="10" fill="#c0c0c0"/>
<rect x="461" y="551" width="1" height="11" fill="#c0c0c0"/>
<rect x="469" y="552" width="1" height="10" fill="#c0c0c0"/>
<rect x="477" y="552" width="1" height="10" fill="#c0c0c0"/>
<rect x="485" y="552" width="1" height="10" fill="#c0c0c0"/>
<rect x="493" y="551" width="1" height="11" fill="#c0c0c0"/>
<rect x="501" y="551" width="1" height="11" fill="#c0c0c0"/>
<rect x="509" y="551" width="1" height="11" fill="#c0c0c0"/>
<rect x="517" y="551" width="1" height="11" fill="#c0c0c0"/>
<rect x="525" y="551" width="1" height="11" fill="#c0c0c0"/>
<rect x="533" y="552" width="1" height="10" fill="#c0c0c0"/>
<rect x="541" y="553" width="1" height="9" fill="#c0c0c0"/>
<rect x="549" y="553" width="1" height="9" fill="#c0c0c0"/>
<rect x="557" y="553" width="1" height="9" fill="#c0c0c0"/>
<rect x="565" y="554" width="1" height="8" fill="#c0c0c0"/>
<rect x="573" y="553" width="1" height="9" fill="#c0c0c0"/>
<rect x="581" y="553" width="1" height="9" fill="#c0c0c0"/>
<rect x="589" y="553" width="1" height="9" fill="#c0c0c0"/>
<rect x="597" y="553" width="1" height="9" fill="#c0c0c0"/>
<rect x="605" y="553" width="1" height="9" fill="#c0c0c0"/>
<rect x="613" y="553" width="1" height="9" fill="#c0c0c0"/>
<rect x="621" y="554" width="1" height="8" fill="#c0c0c0"/>
<rect x="629" y="553" width="1" height="9" fill="#c0c0c0"/>
<rect x="637" y="554" width="1" height="8" fill="#c0c0c0"/>
<rect x="645" y="554" width="1" height="8" fill="#c0c0c0"/>
<rect x="653" y="554" width="1" height="8" fill="#c0c0c0"/>
<rect x="661" y="554" width="1" height="8" fill="#c0c0c0"/>
<rect x="669" y="555" width="1" height="7" fill="#c0c0c0"/>
<rect x="677" y="556" width="1" height="6" fill="#c0c0c0"/>
<rect x="685" y="558" width="1" height="4" fill="#c0c0c0"/>
<rect x="693" y="559" width="1" height="3" fill="#c0c0c0"/>
<rect x="701" y="561" width="1" height="1" fill="#c0c0c0"/>
<rect x="709" y="561" width="1" height="1" fill="#c0c0c0"/>
<rect x="717" y="561" width="1" height="1" fill="#c0c0c0"/>
<rect x="725" y="561" width="1" height="1" fill="#c0c0c0"/>
<rect x="733" y="560" width="1" height="2" fill="#c0c0c0"/>
<rect x="741" y="560" width="1" height="2" fill="#c0c0c0"/>
<rect x="749" y="559" width="1" height="3" fill="#c0c0c0"/>
<rect x="757" y="559" width="1" height="3" fill="#c0c0c0"/>
<rect x="765" y="559" width="1" height="3" fill="#c0c0c0"/>
<rect x="773" y="559" width="1" height="3" fill="#c0c0c0"/>
<rect x="781" y="559" width="1" height="3" fill="#c0c0c0"/>
<rect x="789" y="559" width="1" height="3" fill="#c0c0c0"/>
<rect x="797" y="559" width="1" height="3" fill="#c0c0c0"/>
<rect x="805" y="560" width="1" height="2" fill="#c0c0c0"/>
<rect x="813" y="561" width="1" height="1" fill="#c0c0c0"/>
<rect x="821" y="561" width="1" height="1" fill="#c0c0c0"/>
<rect x="829" y="561" width="1" height="1" fill="#c0c0c0"/>
<rect x="837" y="561" width="1" height="3" fill="#c0c0c0"/>
<rect x="845" y="561" width="1" height="3" fill="#c0c0c0"/>
<rect x="853" y="561" width="1" height="4" fill="#c0c0c0"/>
<rect x="861" y="561" width="1" height="5" fill="#c0c0c0"/>
<rect x="869" y="561" width="1" height="7" fill="#c0c0c0"/>
<rect x="877" y="561" width="1" height="10" fill="#c0c0c0"/>
<rect x="885" y="561" width="1" height="13" fill="#c0c0c0"/>
<rect x="893" y="561" width="1" height="15" fill="#c0c0c0"/>
<rect x="901" y="561" width="1" height="18" fill="#c0c0c0"/>
<rect x="909" y="561" width="1" height="21" fill="#c0c0c0"/>
<rect x="917" y="561" width="1" height="24" fill="#c0c0c0"/>
<rect x="925" y="561" width="1" height="26" fill="#c0c0c0"/>
<rect x="933" y="561" width="1" height="26" fill="#c0c0c0"/>
<rect x="941" y="561" width="1" height="26" fill="#c0c0c0"/>
<rect x="949" y="561" width="1" height="27" fill="#c0c0c0"/>
<rect x="957" y="561" width="1" height="30" fill="#c0c0c0"/>
<rect x="965" y="561" width="1" height="35" fill="#c0c0c0"/>
<rect x="973" y="561" width="1" height="38" fill="#c0c0c0"/>
<rect x="981" y="561" width="1" height="40" fill="#c0c0c0"/>
<rect x="989" y="561" width="1" height="41" fill="#c0c0c0"/>
<rect x="997" y="561" width="1" height="43" fill="#c0c0c0"/>
<rect x="1005" y="561" width="1" height="41" fill="#c0c0c0"/>
<rect x="1013" y="561" width="1" height="43" fill="#c0c0c0"/>
<rect x="1021" y="561" width="1" height="45" fill="#c0c0c0"/>
<rect x="1029" y="561" width="1" height="48" fill="#c0c0c0"/>
<rect x="1037" y="561" width="1" height="48" fill="#c0c0c0"/>
<rect x="1045" y="561" width="1" height="49" fill="#c0c0c0"/>
<rect x="1053" y="561" width="1" height="50" fill="#c0c0c0"/>
<rect x="1061" y="561" width="1" height="52" fill="#c0c0c0"/>
<rect x="1069" y="561" width="1" height="58" fill="#c0c0c0"/>
<rect x="1077" y="561" width="1" height="62" fill="#c0c0c0"/>
<rect x="1085" y="561" width="1" height="65" fill="#c0c0c0"/>
<rect x="1093" y="561" width="1" height="68" fill="#c0c0c0"/>
<rect x="1101" y="561" width="1" height="71" fill="#c0c0c0"/>
<rect x="1109" y="561" width="1" height="73" fill="#c0c0c0"/>
<rect x="1117" y="561" width="1" height="68" fill="#c0c0c0"/>
<rect x="1125" y="561" width="1" height="68" fill="#c0c0c0"/>
<rect x="1133" y="561" width="1" height="62" fill="#c0c0c0"/>
<rect x="1141" y="561" width="1" height="57" fill="#c0c0c0"/>
<rect x="1149" y="561" width="1" height="57" fill="#c0c0c0"/>
<rect x="1157" y="561" width="1" height="52" fill="#c0c0c0"/>
<rect x="1165" y="561" width="1" height="47" fill="#c0c0c0"/>
<rect x="1173" y="561" width="1" height="36" fill="#c0c0c0"/>
<rect x="1181" y="561" width="1" height="28" fill="#c0c0c0"/>
<rect x="1189" y="561" width="1" height="22" fill="#c0c0c0"/>
<rect x="1197" y="561" width="1" height="17" fill="#c0c0c0"/>
<rect x="1205" y="561" width="1" height="11" fill="#c0c0c0"/>
<rect x="1213" y="561" width="1" height="11" fill="#c0c0c0"/>
<rect x="1221" y="561" width="1" height="13" fill="#c0c0c0"/>
<rect x="1229" y="561" width="1" height="12" fill="#c0c0c0"/>
<rect x="1237" y="561" width="1" height="10" fill="#c0c0c0"/>
<rect x="1245" y="561" width="1" height="8" fill="#c0c0c0"/>
<rect x="1253" y="561" width="1" height="6" fill="#c0c0c0"/>
<rect x="1261" y="561" width="1" height="1" fill="#c0c0c0"/>
<rect x="1269" y="560" width="1" height="2" fill="#c0c0c0"/>
<rect x="1277" y="558" width="1" height="4" fill="#c0c0c0"/>
<rect x="1285" y="557" width="1" height="5" fill="#c0c0c0"/>
<rect x="1293" y="558" width="1" height="4" fill="#c0c0c0"/>
<rect x="1301" y="559" width="1" height="3" fill="#c0c0c0"/>
<rect x="1309" y="561" width="1" height="1" fill="#c0c0c0"/>
<rect x="1317" y="561" width="1" height="1" fill="#c0c0c0"/>
<rect x="1325" y="561" width="1" height="6" fill="#c0c0c0"/>
<rect x="1333" y="561" width="1" height="9" fill="#c0c0c0"/>
<rect x="1341" y="561" width="1" height="14" fill="#c0c0c0"/>
<rect x="1349" y="561" width="1" height="16" fill="#c0c0c0"/>
<rect x="1357" y="561" width="1" height="22" fill="#c0c0c0"/>
<rect x="1365" y="561" width="1" height="22" fill="#c0c0c0"/>
<rect x="1373" y="561" width="1" height="31" fill="#c0c0c0"/>
<rect x="1381" y="561" width="1" height="38" fill="#c0c0c0"/>
<rect x="1389" y="561" width="1" height="43" fill="#c0c0c0"/>
<rect x="1397" y="561" width="1" height="46" fill="#c0c0c0"/>
<rect x="1405" y="561" width="1" height="48" fill="#c0c0c0"/>
<rect x="1413" y="561" width="1" height="55" fill="#c0c0c0"/>
<rect x="1421" y="561" width="1" height="55" fill="#c0c0c0"/>
<rect x="1429" y="561" width="1" height="54" fill="#c0c0c0"/>
<rect x="1437" y="561" width="1" height="52" fill="#c0c0c0"/>
<rect x="1445" y="561" width="1" height="48" fill="#c0c0c0"/>
<rect x="1453" y="561" width="1" height="50" fill="#c0c0c0"/>
<rect x="1461" y="561" width="1" height="43" fill="#c0c0c0"/>
<rect x="1469" y="561" width="1" height="41" fill="#c0c0c0"/>
<rect x="1477" y="561" width="1" height="40" fill="#c0c0c0"/>
<rect x="1485" y="561" width="1" height="39" fill="#c0c0c0"/>
<rect x="1493" y="561" width="1" height="38" fill="#c0c0c0"/>
<rect x="1501" y="561" width="1" height="39" fill="#c0c0c0"/>
<rect x="1509" y="561" width="1" height="41" fill="#c0c0c0"/>
<rect x="1517" y="561" width="1" height="42" fill="#c0c0c0"/>
<rect x="1525" y="561" width="1" height="50" fill="#c0c0c0"/>
<rect x="1533" y="561" width="1" height="55" fill="#c0c0c0"/>
<rect x="1541" y="561" width="1" height="60" fill="#c0c0c0"/>
<rect x="1549" y="561" width="1" height="69" fill="#c0c0c0"/>
<rect x="1557" y="561" width="1" height="78" fill="#c0c0c0"/>
<rect x="1565" y="561" width="1" height="86" fill="#c0c0c0"/>
<rect x="1573" y="561" width="1" height="94" fill="#c0c0c0"/>
<rect x="1581" y="561" width="1" height="88" fill="#c0c0c0"/>
<rect x="1589" y="561" width="1" height="81" fill="#c0c0c0"/>
<rect x="1597" y="561" width="1" height="78" fill="#c0c0c0"/>
<rect x="1605" y="561" width="1" height="66" fill="#c0c0c0"/>
<rect x="1613" y="561" width="1" height="55" fill="#c0c0c0"/>
<rect x="1621" y="561" width="1" height="53" fill="#c0c0c0"/>
<rect x="1629" y="561" width="1" height="52" fill="#c0c0c0"/>
<rect x="1637" y="561" width="1" height="52" fill="#c0c0c0"/>
<rect x="1645" y="561" width="1" height="61" fill="#c0c0c0"/>
<rect x="1653" y="561" width="1" height="66" fill="#c0c0c0"/>
<rect x="1661" y="561" width="1" height="68" fill="#c0c0c0"/>
<path d="M340 545h3v1h-3zM346 545h3v1h-3zM352 545h3v1h-3zM334 546h3v1h-3zM358 546h3v1h-3zM364 546h3v1h-3zM370 546h3v1h-3zM376 546h1v1h-1zM323 547h2v1h-2zM328 547h3v1h-3zM377 547h2v1h-2zM382 547h3v1h-3zM388 547h2v1h-2zM316 548h3v1h-3zM322 548h1v1h-1zM390 548h1v1h-1zM394 548h3v1h-3zM400 548h1v1h-1zM305 549h2v1h-2zM310 549h3v1h-3zM401 549h2v1h-2zM299 550h2v1h-2zM304 550h1v1h-1zM406 550h3v1h-3zM527 550h2v1h-2zM532 550h3v1h-3zM538 550h3v1h-3zM544 550h3v1h-3zM550 550h3v1h-3zM556 550h3v1h-3zM562 550h1v1h-1zM298 551h1v1h-1zM412 551h3v1h-3zM418 551h1v1h-1zM484 551h3v1h-3zM490 551h3v1h-3zM496 551h3v1h-3zM502 551h3v1h-3zM508 551h3v1h-3zM514 551h3v1h-3zM520 551h3v1h-3zM526 551h1v1h-1zM563 551h1v1h-1zM292 552h3v1h-3zM419 552h2v1h-2zM424 552h3v1h-3zM473 552h2v1h-2zM478 552h3v1h-3zM564 552h1v1h-1zM568 552h3v1h-3zM574 552h3v1h-3zM580 552h3v1h-3zM586 552h3v1h-3zM592 552h3v1h-3zM598 552h3v1h-3zM604 552h3v1h-3zM610 552h3v1h-3zM286 553h3v1h-3zM430 553h3v1h-3zM436 553h3v1h-3zM442 553h3v1h-3zM448 553h3v1h-3zM454 553h3v1h-3zM460 553h3v1h-3zM466 553h3v1h-3zM472 553h1v1h-1zM616 553h3v1h-3zM622 553h3v1h-3zM628 553h3v1h-3zM634 553h3v1h-3zM640 553h3v1h-3zM646 553h3v1h-3zM652 553h3v1h-3zM658 553h3v1h-3zM664 553h3v1h-3zM670 553h3v1h-3zM280 554h3v1h-3zM676 554h3v1h-3zM682 554h3v1h-3zM688 554h3v1h-3zM694 554h3v1h-3zM274 555h3v1h-3zM700 555h3v1h-3zM706 555h3v1h-3zM268 556h3v1h-3zM712 556h3v1h-3zM718 556h3v1h-3zM724 556h1v1h-1zM262 557h3v1h-3zM725 557h2v1h-2zM730 558h3v1h-3zM736 558h3v1h-3zM742 558h3v1h-3zM258 559h1v1h-1zM748 559h3v1h-3zM754 559h3v1h-3zM760 559h3v1h-3zM766 559h3v1h-3zM772 559h3v1h-3zM778 559h3v1h-3zM784 559h3v1h-3zM790 559h3v1h-3zM796 559h3v1h-3zM802 559h3v1h-3zM808 559h3v1h-3zM814 559h3v1h-3zM820 559h3v1h-3zM826 559h3v1h-3zM832 559h3v1h-3zM256 560h2v1h-2zM838 560h3v1h-3zM844 560h1v1h-1zM1312 560h3v1h-3zM1318 560h3v1h-3zM1324 560h3v1h-3zM246 561h1v1h-1zM250 561h3v1h-3zM845 561h2v1h-2zM850 561h3v1h-3zM856 561h3v1h-3zM1306 561h3v1h-3zM1330 561h3v1h-3zM239 562h2v1h-2zM244 562h2v1h-2zM862 562h2v1h-2zM1300 562h3v1h-3zM1336 562h3v1h-3zM232 563h3v1h-3zM238 563h1v1h-1zM864 563h1v1h-1zM1295 563h2v1h-2zM1342 563h3v1h-3zM226 564h3v1h-3zM868 564h3v1h-3zM1294 564h1v1h-1zM1348 564h3v1h-3zM874 565h3v1h-3zM1288 565h3v1h-3zM107 566h2v1h-2zM112 566h3v1h-3zM220 566h3v1h-3zM880 566h3v1h-3zM1282 566h3v1h-3zM1354 566h1v1h-1zM46 567h3v1h-3zM52 567h3v1h-3zM58 567h3v1h-3zM64 567h3v1h-3zM70 567h3v1h-3zM76 567h3v1h-3zM82 567h3v1h-3zM88 567h3v1h-3zM94 567h3v1h-3zM100 567h3v1h-3zM106 567h1v1h-1zM118 567h3v1h-3zM124 567h3v1h-3zM130 567h3v1h-3zM136 567h3v1h-3zM208 567h3v1h-3zM214 567h3v1h-3zM886 567h3v1h-3zM1276 567h3v1h-3zM1355 567h2v1h-2zM34 568h3v1h-3zM40 568h3v1h-3zM142 568h3v1h-3zM148 568h3v1h-3zM154 568h3v1h-3zM160 568h3v1h-3zM166 568h3v1h-3zM172 568h3v1h-3zM178 568h3v1h-3zM184 568h3v1h-3zM190 568h3v1h-3zM196 568h3v1h-3zM202 568h3v1h-3zM892 568h3v1h-3zM1271 568h2v1h-2zM22 569h3v1h-3zM28 569h3v1h-3zM898 569h3v1h-3zM1270 569h1v1h-1zM1360 569h1v1h-1zM16 570h3v1h-3zM904 570h1v1h-1zM1264 570h3v1h-3zM1361 570h2v1h-2zM10 571h3v1h-3zM905 571h2v1h-2zM1258 571h3v1h-3zM4 572h3v1h-3zM1254 572h1v1h-1zM1366 572h2v1h-2zM910 573h2v1h-2zM1252 573h2v1h-2zM1368 573h1v1h-1zM912 574h1v1h-1zM1248 574h1v1h-1zM1372 574h2v1h-2zM916 575h3v1h-3zM1246 575h2v1h-2zM1374 575h1v1h-1zM922 576h2v1h-2zM924 577h1v1h-1zM1241 577h2v1h-2zM1378 577h2v1h-2zM928 578h3v1h-3zM1240 578h1v1h-1zM1380 578h1v1h-1zM1236 579h1v1h-1zM934 580h3v1h-3zM1234 580h2v1h-2zM1384 580h1v1h-1zM940 581h3v1h-3zM1385 581h2v1h-2zM946 582h2v1h-2zM1230 582h1v1h-1zM948 583h1v1h-1zM1228 583h2v1h-2zM952 584h3v1h-3zM1390 584h2v1h-2zM958 585h1v1h-1zM1224 585h1v1h-1zM1392 585h1v1h-1zM959 586h2v1h-2zM1223 586h1v1h-1zM964 587h3v1h-3zM1222 587h1v1h-1zM1396 587h2v1h-2zM1398 588h1v1h-1zM970 589h1v1h-1zM1218 589h1v1h-1zM971 590h2v1h-2zM976 590h1v1h-1zM1217 590h1v1h-1zM1402 590h1v1h-1zM977 591h2v1h-2zM982 591h2v1h-2zM1216 591h1v1h-1zM1403 591h2v1h-2zM984 592h1v1h-1zM988 593h1v1h-1zM1212 593h1v1h-1zM989 594h2v1h-2zM1210 594h2v1h-2zM1408 594h1v1h-1zM994 595h2v1h-2zM1409 595h2v1h-2zM996 596h1v1h-1zM1000 597h3v1h-3zM1206 597h1v1h-1zM1006 598h3v1h-3zM1204 598h2v1h-2zM1414 598h2v1h-2zM1012 599h3v1h-3zM1416 599h1v1h-1zM1018 600h1v1h-1zM1019 601h2v1h-2zM1200 601h1v1h-1zM1420 601h2v1h-2zM1024 602h1v1h-1zM1198 602h2v1h-2zM1422 602h1v1h-1zM1025 603h2v1h-2zM1504 603h3v1h-3zM1510 603h3v1h-3zM1516 603h3v1h-3zM1522 603h3v1h-3zM1030 604h3v1h-3zM1036 604h1v1h-1zM1426 604h3v1h-3zM1499 604h2v1h-2zM1528 604h3v1h-3zM1037 605h2v1h-2zM1042 605h3v1h-3zM1194 605h1v1h-1zM1498 605h1v1h-1zM1534 605h3v1h-3zM1048 606h2v1h-2zM1193 606h1v1h-1zM1432 606h1v1h-1zM1492 606h3v1h-3zM1540 606h3v1h-3zM1050 607h1v1h-1zM1054 607h3v1h-3zM1192 607h1v1h-1zM1433 607h2v1h-2zM1486 607h3v1h-3zM1060 608h3v1h-3zM1481 608h2v1h-2zM1546 608h2v1h-2zM1066 609h2v1h-2zM1438 609h3v1h-3zM1480 609h1v1h-1zM1548 609h1v1h-1zM1068 610h1v1h-1zM1187 610h2v1h-2zM1444 610h3v1h-3zM1474 610h3v1h-3zM1072 611h3v1h-3zM1186 611h1v1h-1zM1450 611h3v1h-3zM1456 611h3v1h-3zM1462 611h3v1h-3zM1468 611h3v1h-3zM1552 611h1v1h-1zM1078 612h2v1h-2zM1553 612h2v1h-2zM1080 613h1v1h-1zM1181 613h2v1h-2zM1084 614h3v1h-3zM1180 614h1v1h-1zM1090 615h1v1h-1zM1558 615h2v1h-2zM1091 616h2v1h-2zM1176 616h1v1h-1zM1560 616h1v1h-1zM1174 617h2v1h-2zM1096 618h2v1h-2zM1564 618h1v1h-1zM1098 619h1v1h-1zM1565 619h1v1h-1zM1102 620h2v1h-2zM1169 620h2v1h-2zM1566 620h1v1h-1zM1104 621h1v1h-1zM1168 621h1v1h-1zM1108 622h3v1h-3zM1114 623h2v1h-2zM1163 623h2v1h-2zM1570 623h2v1h-2zM1655 623h2v1h-2zM1116 624h1v1h-1zM1162 624h1v1h-1zM1572 624h1v1h-1zM1650 624h1v1h-1zM1654 624h1v1h-1zM1120 625h2v1h-2zM1156 625h3v1h-3zM1648 625h2v1h-2zM1122 626h1v1h-1zM1644 626h1v1h-1zM1126 627h3v1h-3zM1132 627h1v1h-1zM1146 627h1v1h-1zM1150 627h3v1h-3zM1576 627h2v1h-2zM1642 627h2v1h-2zM1133 628h2v1h-2zM1138 628h3v1h-3zM1144 628h2v1h-2zM1578 628h1v1h-1zM1638 629h1v1h-1zM1636 630h2v1h-2zM1582 631h2v1h-2zM1584 632h1v1h-1zM1632 632h1v1h-1zM1630 633h2v1h-2zM1588 634h1v1h-1zM1589 635h2v1h-2zM1625 635h2v1h-2zM1624 636h1v1h-1zM1594 637h1v1h-1zM1618 637h3v1h-3zM1595 638h2v1h-2zM1612 638h3v1h-3zM1600 639h3v1h-3zM1606 639h3v1h-3z" fill="#ff0000"/>
</g>
<rect x="1681" y="539" width="1" height="1" fill="#000"/>
<text x="1684" y="548" font-size="10" fill="#000" stroke="#000" text-anchor="start" textLength="33" lengthAdjust="spacingAndGlyphs">28.8016</text>
<rect x="1681" y="561" width="2" height="1" fill="#000"/>
<text x="1684" y="565" font-size="10" fill="#000" stroke="#000" text-anchor="start" textLength="18.5" lengthAdjust="spacingAndGlyphs">0.00</text>
<rect x="1681" y="660" width="1" height="1" fill="#000"/>
<text x="1684" y="658" font-size="10" fill="#000" stroke="#000" text-anchor="start" textLength="41.5" lengthAdjust="spacingAndGlyphs">-124.4011</text>
<rect x="6" y="695" width="3" height="1" fill="#c0c0c0"/>
<rect x="12" y="695" width="3" height="1" fill="#c0c0c0"/>
<rect x="18" y="695" width="3" height="1" fill="#c0c0c0"/>
<rect x="24" y="695" width="3" height="1" fill="#c0c0c0"/>
<rect x="30" y="695" width="3" height="1" fill="#c0c0c0"/>
<rect x="36" y="695" width="3" height="1" fill="#c0c0c0"/>
<rect x="42" y="695" width="3" height="1" fill="#c0c0c0"/>
<rect x="48" y="695" width="3" height="1" fill="#c0c0c0"/>
<rect x="54" y="695" width="3" height="1" fill="#c0c0c0"/>
<rect x="60" y="695" width="3" height="1" fill="#c0c0c0"/>
<rect x="66" y="695" width="3" height="1" fill="#c0c0c0"/>
<rect x="72" y="695" width="3" height="1" fill="#c0c0c0"/>
<rect x="78" y="695" width="3" height="1" fill="#c0c0c0"/>
<rect x="84" y="695" width="3" height="1" fill="#c0c0c0"/>
<rect x="90" y="695" width="3" height="1" fill="#c0c0c0"/>
<rect x="96" y="695" width="3" height="1" fill="#c0c0c0"/>
<rect x="102" y="695" width="3" height="1" fill="#c0c0c0"/>
<rect x="108" y="695" width="3" height="1" fill="#c0c0c0"/>
<rect x="114" y="695" width="3" height="1" fill="#c0c0c0"/>
<rect x="120" y="695" width="3" height="1" fill="#c0c0c0"/>
<rect x="126" y="695" width="3" height="1" fill="#c0c0c0"/>
<rect x="132" y="695" width="3" height="1" fill="#c0c0c0"/>
<rect x="138" y="695" width="3" height="1" fill="#c0c0c0"/>
<rect x="144" y="695" width="3" height="1" fill="#c0c0c0"/>
<rect x="150" y="695" width="3" height="1" fill="#c0c0c0"/>
<rect x="156" y="695" width="3" height="1" fill="#c0c0c0"/>
<rect x="162" y="695" width="3" height="1" fill="#c0c0c0"/>
<rect x="168" y="695" width="3" height="1" fill="#c0c0c0"/>
<rect x="174" y="695" width="3" height="1" fill="#c0c0c0"/>
<rect x="180" y="695" width="3" height="1" fill="#c0c0c0"/>
<rect x="186" y="695" width="3" height="1" fill="#c0c0c0"/>
<rect x="192" y="695" width="3" height="1" fill="#c0c0c0"/>
<rect x="198" y="695" width="3" height="1" fill="#c0c0c0"/>
<rect x="204" y="695" width="3" height="1" fill="#c0c0c0"/>
<rect x="210" y="695" width="3" height="1" fill="#c0c0c0"/>
<rect x="216" y="695" width="3" height="1" fill="#c0c0c0"/>
<rect x="222" y="695" width="3" height="1" fill="#c0c0c0"/>
<rect x="228" y="695" width="3" height="1" fill="#c0c0c0"/>
<rect x="234" y="695" width="3" height="1" fill="#c0c0c0"/>
<rect x="240" y="695" width="3" height="1" fill="#c0c0c0"/>
<rect x="246" y="695" width="3" height="1" fill="#c0c0c0"/>
<rect x="252" y="695" width="3" height="1" fill="#c0c0c0"/>
<rect x="258" y="695" width="3" height="1" fill="#c0c0c0"/>
<rect x="264" y="695" width="3" height="1" fill="#c0c0c0"/>
<rect x="270" y="695" width="3" height="1" fill="#c0c0c0"/>
<rect x="276" y="695" width="3" height="1" fill="#c0c0c0"/>
<rect x="282" y="695" width="3" height="1" fill="#c0c0c0"/>
<rect x="288" y="695" width="3" height="1" fill="#c0c0c0"/>
<rect x="294" y="695" width="3" height="1" fill="#c0c0c0"/>
<rect x="300" y="695" width="3" height="1" fill="#c0c0c0"/>
<rect x="306" y="695" width="3" height="1" fill="#c0c0c0"/>
<rect x="312" y="695" width="3" height="1" fill="#c0c0c0"/>
<rect x="318" y="695" width="3" height="1" fill="#c0c0c0"/>
<rect x="324" y="695" width="3" height="1" fill="#c0c0c0"/>
<rect x="330" y="695" width="3" height="1" fill="#c0c0c0"/>
<rect x="336" y="695" width="3" height="1" fill="#c0c0c0"/>
<rect x="342" y="695" width="3" height="1" fill="#c0c0c0"/>
<rect x="348" y="695" width="3" height="1" fill="#c0c0c0"/>
<rect x="354" y="695" width="3" height="1" fill="#c0c0c0"/>
<rect x="360" y="695" width="3" height="1" fill="#c0c0c0"/>
<rect x="366" y="695" width="3" height="1" fill="#c0c0c0"/>
<rect x="372" y="695" width="3" height="1" fill="#c0c0c0"/>
<rect x="378" y="695" width="3" height="1" fill="#c0c0c0"/>
<rect x="384" y="695" width="3" height="1" fill="#c0c0c0"/>
<rect x="390" y="695" width="3" height="1" fill="#c0c0c0"/>
<rect x="396" y="695" width="3" height="1" fill="#c0c0c0"/>
<rect x="402" y="695" width="3" height="1" fill="#c0c0c0"/>
<rect x="408" y="695" width="3" height="1" fill="#c0c0c0"/>
<rect x="414" y="695" width="3" height="1" fill="#c0c0c0"/>
<rect x="420" y="695" width="3" height="1" fill="#c0c0c0"/>
<rect x="426" y="695" width="3" height="1" fill="#c0c0c0"/>
<rect x="432" y="695" width="3" height="1" fill="#c0c0c0"/>
<rect x="438" y="695" width="3" height="1" fill="#c0c0c0"/>
<rect x="444" y="695" width="3" height="1" fill="#c0c0c0"/>
<rect x="450" y="695" width="3" height="1" fill="#c0c0c0"/>
<rect x="456" y="695" width="3" height="1" fill="#c0c0c0"/>
<rect x="462" y="695" width="3" height="1" fill="#c0c0c0"/>
<rect x="468" y="695" width="3" height="1" fill="#c0c0c0"/>
<rect x="474" y="695" width="3" height="1" fill="#c0c0c0"/>
<rect x="480" y="695" width="3" height="1" fill="#c0c0c0"/>
<rect x="486" y="695" width="3" height="1" fill="#c0c0c0"/>
<rect x="492" y="695" width="3" height="1" fill="#c0c0c0"/>
<rect x="498" y="695" width="3" height="1" fill="#c0c0c0"/>
<rect x="504" y="695" width="3" height="1" fill="#c0c0c0"/>
<rect x="510" y="695" width="3" height="1" fill="#c0c0c0"/>
<rect x="516" y="695" width="3" height="1" fill="#c0c0c0"/>
<rect x="522" y="695" width="3" height="1" fill="#c0c0c0"/>
<rect x="528" y="695" width="3" height="1" fill="#c0c0c0"/>
<rect x="534" y="695" width="3" height="1" fill="#c0c0c0"/>
<rect x="540" y="695" width="3" height="1" fill="#c0c0c0"/>
<rect x="546" y="695" width="3" height="1" fill="#c0c0c0"/>
<rect x="552" y="695" width="3" height="1" fill="#c0c0c0"/>
<rect x="558" y="695" width="3" height="1" fill="#c0c0c0"/>
<rect x="564" y="695" width="3" height="1" fill="#c0c0c0"/>
<rect x="570" y="695" width="3" height="1" fill="#c0c0c0"/>
<rect x="576" y="695" width="3" height="1" fill="#c0c0c0"/>
<rect x="582" y="695" width="3" height="1" fill="#c0c0c0"/>
<rect x="588" y="695" width="3" height="1" fill="#c0c0c0"/>
<rect x="594" y="695" width="3" height="1" fill="#c0c0c0"/>
<rect x="600" y="695" width="3" height="1" fill="#c0c0c0"/>
<rect x="606" y="695" width="3" height="1" fill="#c0c0c0"/>
<rect x="612" y="695" width="3" height="1" fill="#c0c0c0"/>
<rect x="618" y="695" width="3" height="1" fill="#c0c0c0"/>
<rect x="624" y="695" width="3" height="1" fill="#c0c0c0"/>
<rect x="630" y="695" width="3" height="1" fill="#c0c0c0"/>
<rect x="636" y="695" width="3" height="1" fill="#c0c0c0"/>
<rect x="642" y="695" width="3" height="1" fill="#c0c0c0"/>
<rect x="648" y="695" width="3" height="1" fill="#c0c0c0"/>
<rect x="654" y="695" width="3" height="1" fill="#c0c0c0"/>
<rect x="660" y="695" width="3" height="1" fill="#c0c0c0"/>
<rect x="666" y="695" width="3" height="1" fill="#c0c0c0"/>
<rect x="672" y="695" width="3" height="1" fill="#c0c0c0"/>
<rect x="678" y="695" width="3" height="1" fill="#c0c0c0"/>
<rect x="684" y="695" width="3" height="1" fill="#c0c0c0"/>
<rect x="690" y="695" width="3" height="1" fill="#c0c0c0"/>
<rect x="696" y="695" width="3" height="1" fill="#c0c0c0"/>
<rect x="702" y="695" width="3" height="1" fill="#c0c0c0"/>
<rect x="708" y="695" width="3" height="1" fill="#c0c0c0"/>
<rect x="714" y="695" width="3" height="1" fill="#c0c0c0"/>
<rect x="720" y="695" width="3" height="1" fill="#c0c0c0"/>
<rect x="726" y="695" width="3" height="1" fill="#c0c0c0"/>
<rect x="732" y="695" width="3" height="1" fill="#c0c0c0"/>
<rect x="738" y="695" width="3" height="1" fill="#c0c0c0"/>
<rect x="744" y="695" width="3" height="1" fill="#c0c0c0"/>
<rect x="750" y="695" width="3" height="1" fill="#c0c0c0"/>
<rect x="756" y="695" width="3" height="1" fill="#c0c0c0"/>
<rect x="762" y="695" width="3" height="1" fill="#c0c0c0"/>
<rect x="768" y="695" width="3" height="1" fill="#c0c0c0"/>
<rect x="774" y="695" width="3" height="1" fill="#c0c0c0"/>
<rect x="780" y="695" width="3" height="1" fill="#c0c0c0"/>
<rect x="786" y="695" width="3" height="1" fill="#c0c0c0"/>
<rect x="792" y="695" width="3" height="1" fill="#c0c0c0"/>
<rect x="798" y="695" width="3" height="1" fill="#c0c0c0"/>
<rect x="804" y="695" width="3" height="1" fill="#c0c0c0"/>
<rect x="810" y="695" width="3" height="1" fill="#c0c0c0"/>
<rect x="816" y="695" width="3" height="1" fill="#c0c0c0"/>
<rect x="822" y="695" width="3" height="1" fill="#c0c0c0"/>
<rect x="828" y="695" width="3" height="1" fill="#c0c0c0"/>
<rect x="834" y="695" width="3" height="1" fill="#c0c0c0"/>
<rect x="840" y="695" width="3" height="1" fill="#c0c0c0"/>
<rect x="846" y="695" width="3" height="1" fill="#c0c0c0"/>
<rect x="852" y="695" width="3" height="1" fill="#c0c0c0"/>
<rect x="858" y="695" width="3" height="1" fill="#c0c0c0"/>
<rect x="864" y="695" width="3" height="1" fill="#c0c0c0"/>
<rect x="870" y="695" width="3" height="1" fill="#c0c0c0"/>
<rect x="876" y="695" width="3" height="1" fill="#c0c0c0"/>
<rect x="882" y="695" width="3" height="1" fill="#c0c0c0"/>
<rect x="888" y="695" width="3" height="1" fill="#c0c0c0"/>
<rect x="894" y="695" width="3" height="1" fill="#c0c0c0"/>
<rect x="900" y="695" width="3" height="1" fill="#c0c0c0"/>
<rect x="906" y="695" width="3" height="1" fill="#c0c0c0"/>
<rect x="912" y="695" width="3" height="1" fill="#c0c0c0"/>
<rect x="918" y="695" width="3" height="1" fill="#c0c0c0"/>
<rect x="924" y="695" width="3" height="1" fill="#c0c0c0"/>
<rect x="930" y="695" width="3" height="1" fill="#c0c0c0"/>
<rect x="936" y="695" width="3" height="1" fill="#c0c0c0"/>
<rect x="942" y="695" width="3" height="1" fill="#c0c0c0"/>
<rect x="948" y="695" width="3" height="1" fill="#c0c0c0"/>
<rect x="954" y="695" width="3" height="1" fill="#c0c0c0"/>
<rect x="960" y="695" width="3" height="1" fill="#c0c0c0"/>
<rect x="966" y="695" width="3" height="1" fill="#c0c0c0"/>
<rect x="972" y="695" width="3" height="1" fill="#c0c0c0"/>
<rect x="978" y="695" width="3" height="1" fill="#c0c0c0"/>
<rect x="984" y="695" width="3" height="1" fill="#c0c0c0"/>
<rect x="990" y="695" width="3" height="1" fill="#c0c0c0"/>
<rect x="996" y="695" width="3" height="1" fill="#c0c0c0"/>
<rect x="1002" y="695" width="3" height="1" fill="#c0c0c0"/>
<rect x="1008" y="695" width="3" height="1" fill="#c0c0c0"/>
<rect x="1014" y="695" width="3" height="1" fill="#c0c0c0"/>
<rect x="1020" y="695" width="3" height="1" fill="#c0c0c0"/>
<rect x="1026" y="695" width="3" height="1" fill="#c0c0c0"/>
<rect x="1032" y="695" width="3" height="1" fill="#c0c0c0"/>
<rect x="1038" y="695" width="3" height="1" fill="#c0c0c0"/>
<rect x="1044" y="695" width="3" height="1" fill="#c0c0c0"/>
<rect x="1050" y="695" width="3" height="1" fill="#c0c0c0"/>
<rect x="1056" y="695" width="3" height="1" fill="#c0c0c0"/>
<rect x="1062" y="695" width="3" height="1" fill="#c0c0c0"/>
<rect x="1068" y="695" width="3" height="1" fill="#c0c0c0"/>
<rect x="1074" y="695" width="3" height="1" fill="#c0c0c0"/>
<rect x="1080" y="695" width="3" height="1" fill="#c0c0c0"/>
<rect x="1086" y="695" width="3" height="1" fill="#c0c0c0"/>
<rect x="1092" y="695" width="3" height="1" fill="#c0c0c0"/>
<rect x="1098" y="695" width="3" height="1" fill="#c0c0c0"/>
<rect x="1104" y="695" width="3" height="1" fill="#c0c0c0"/>
<rect x="1110" y="695" width="3" height="1" fill="#c0c0c0"/>
<rect x="1116" y="695" width="3" height="1" fill="#c0c0c0"/>
<rect x="1122" y="695" width="3" height="1" fill="#c0c0c0"/>
<rect x="1128" y="695" width="3" height="1" fill="#c0c0c0"/>
<rect x="1134" y="695" width="3" height="1" fill="#c0c0c0"/>
<rect x="1140" y="695" width="3" height="1" fill="#c0c0c0"/>
<rect x="1146" y="695" width="3" height="1" fill="#c0c0c0"/>
<rect x="1152" y="695" width="3" height="1" fill="#c0c0c0"/>
<rect x="1158" y="695" width="3" height="1" fill="#c0c0c0"/>
<rect x="1164" y="695" width="3" height="1" fill="#c0c0c0"/>
<rect x="1170" y="695" width="3" height="1" fill="#c0c0c0"/>
<rect x="1176" y="695" width="3" height="1" fill="#c0c0c0"/>
<rect x="1182" y="695" width="3" height="1" fill="#c0c0c0"/>
<rect x="1188" y="695" width="3" height="1" fill="#c0c0c0"/>
<rect x="1194" y="695" width="3" height="1" fill="#c0c0c0"/>
<rect x="1200" y="695" width="3" height="1" fill="#c0c0c0"/>
<rect x="1206" y="695" width="3" height="1" fill="#c0c0c0"/>
<rect x="1212" y="695" width="3" height="1" fill="#c0c0c0"/>
<rect x="1218" y="695" width="3" height="1" fill="#c0c0c0"/>
<rect x="1224" y="695" width="3" height="1" fill="#c0c0c0"/>
<rect x="1230" y="695" width="3" height="1" fill="#c0c0c0"/>
<rect x="1236" y="695" width="3" height="1" fill="#c0c0c0"/>
<rect x="1242" y="695" width="3" height="1" fill="#c0c0c0"/>
<rect x="1248" y="695" width="3" height="1" fill="#c0c0c0"/>
<rect x="1254" y="695" width="3" height="1" fill="#c0c0c0"/>
<rect x="1260" y="695" width="3" height="1" fill="#c0c0c0"/>
<rect x="1266" y="695" width="3" height="1" fill="#c0c0c0"/>
<rect x="1272" y="695" width="3" height="1" fill="#c0c0c0"/>
<rect x="1278" y="695" width="3" height="1" fill="#c0c0c0"/>
<rect x="1284" y="695" width="3" height="1" fill="#c0c0c0"/>
<rect x="1290" y="695" width="3" height="1" fill="#c0c0c0"/>
<rect x="1296" y="695" width="3" height="1" fill="#c0c0c0"/>
<rect x="1302" y="695" width="3" height="1" fill="#c0c0c0"/>
<rect x="1308" y="695" width="3" height="1" fill="#c0c0c0"/>
<rect x="1314" y="695" width="3" height="1" fill="#c0c0c0"/>
<rect x="1320" y="695" width="3" height="1" fill="#c0c0c0"/>
<rect x="1326" y="695" width="3" height="1" fill="#c0c0c0"/>
<rect x="1332" y="695" width="3" height="1" fill="#c0c0c0"/>
<rect x="1338" y="695" width="3" height="1" fill="#c0c0c0"/>
<rect x="1344" y="695" width="3" height="1" fill="#c0c0c0"/>
<rect x="1350" y="695" width="3" height="1" fill="#c0c0c0"/>
<rect x="1356" y="695" width="3" height="1" fill="#c0c0c0"/>
<rect x="1362" y="695" width="3" height="1" fill="#c0c0c0"/>
<rect x="1368" y="695" width="3" height="1" fill="#c0c0c0"/>
<rect x="1374" y="695" width="3" height="1" fill="#c0c0c0"/>
<rect x="1380" y="695" width="3" height="1" fill="#c0c0c0"/>
<rect x="1386" y="695" width="3" height="1" fill="#c0c0c0"/>
<rect x="1392" y="695" width="3" height="1" fill="#c0c0c0"/>
<rect x="1398" y="695" width="3" height="1" fill="#c0c0c0"/>
<rect x="1404" y="695" width="3" height="1" fill="#c0c0c0"/>
<rect x="1410" y="695" width="3" height="1" fill="#c0c0c0"/>
<rect x="1416" y="695" width="3" height="1" fill="#c0c0c0"/>
<rect x="1422" y="695" width="3" height="1" fill="#c0c0c0"/>
<rect x="1428" y="695" width="3" height="1" fill="#c0c0c0"/>
<rect x="1434" y="695" width="3" height="1" fill="#c0c0c0"/>
<rect x="1440" y="695" width="3" height="1" fill="#c0c0c0"/>
<rect x="1446" y="695" width="3" height="1" fill="#c0c0c0"/>
<rect x="1452" y="695" width="3" height="1" fill="#c0c0c0"/>
<rect x="1458" y="695" width="3" height="1" fill="#c0c0c0"/>
<rect x="1464" y="695" width="3" height="1" fill="#c0c0c0"/>
<rect x="1470" y="695" width="3" height="1" fill="#c0c0c0"/>
<rect x="1476" y="695" width="3" height="1" fill="#c0c0c0"/>
<rect x="1482" y="695" width="3" height="1" fill="#c0c0c0"/>
<rect x="1488" y="695" width="3" height="1" fill="#c0c0c0"/>
<rect x="1494" y="695" width="3" height="1" fill="#c0c0c0"/>
<rect x="1500" y="695" width="3" height="1" fill="#c0c0c0"/>
<rect x="1506" y="695" width="3" height="1" fill="#c0c0c0"/>
<rect x="1512" y="695" width="3" height="1" fill="#c0c0c0"/>
<rect x="1518" y="695" width="3" height="1" fill="#c0c0c0"/>
<rect x="1524" y="695" width="3" height="1" fill="#c0c0c0"/>
<rect x="1530" y="695" width="3" height="1" fill="#c0c0c0"/>
<rect x="1536" y="695" width="3" height="1" fill="#c0c0c0"/>
<rect x="1542" y="695" width="3" height="1" fill="#c0c0c0"/>
<rect x="1548" y="695" width="3" height="1" fill="#c0c0c0"/>
<rect x="1554" y="695" width="3" height="1" fill="#c0c0c0"/>
<rect x="1560" y="695" width="3" height="1" fill="#c0c0c0"/>
<rect x="1566" y="695" width="3" height="1" fill="#c0c0c0"/>
<rect x="1572" y="695" width="3" height="1" fill="#c0c0c0"/>
<rect x="1578" y="695" width="3" height="1" fill="#c0c0c0"/>
<rect x="1584" y="695" width="3" height="1" fill="#c0c0c0"/>
<rect x="1590" y="695" width="3" height="1" fill="#c0c0c0"/>
<rect x="1596" y="695" width="3" height="1" fill="#c0c0c0"/>
<rect x="1602" y="695" width="3" height="1" fill="#c0c0c0"/>
<rect x="1608" y="695" width="3" height="1" fill="#c0c0c0"/>
<rect x="1614" y="695" width="3" height="1" fill="#c0c0c0"/>
<rect x="1620" y="695" width="3" height="1" fill="#c0c0c0"/>
<rect x="1626" y="695" width="3" height="1" fill="#c0c0c0"/>
<rect x="1632" y="695" width="3" height="1" fill="#c0c0c0"/>
<rect x="1638" y="695" width="3" height="1" fill="#c0c0c0"/>
<rect x="1644" y="695" width="3" height="1" fill="#c0c0c0"/>
<rect x="1650" y="695" width="3" height="1" fill="#c0c0c0"/>
<rect x="1656" y="695" width="3" height="1" fill="#c0c0c0"/>
<rect x="1662" y="695" width="3" height="1" fill="#c0c0c0"/>
<rect x="1668" y="695" width="3" height="1" fill="#c0c0c0"/>
<rect x="1674" y="695" width="3" height="1" fill="#c0c0c0"/>
<rect x="6" y="737" width="3" height="1" fill="#c0c0c0"/>
<rect x="12" y="737" width="3" height="1" fill="#c0c0c0"/>
<rect x="18" y="737" width="3" height="1" fill="#c0c0c0"/>
<rect x="24" y="737" width="3" height="1" fill="#c0c0c0"/>
<rect x="30" y="737" width="3" height="1" fill="#c0c0c0"/>
<rect x="36" y="737" width="3" height="1" fill="#c0c0c0"/>
<rect x="42" y="737" width="3" height="1" fill="#c0c0c0"/>
<rect x="48" y="737" width="3" height="1" fill="#c0c0c0"/>
<rect x="54" y="737" width="3" height="1" fill="#c0c0c0"/>
<rect x="60" y="737" width="3" height="1" fill="#c0c0c0"/>
<rect x="66" y="737" width="3" height="1" fill="#c0c0c0"/>
<rect x="72" y="737" width="3" height="1" fill="#c0c0c0"/>
<rect x="78" y="737" width="3" height="1" fill="#c0c0c0"/>
<rect x="84" y="737" width="3" height="1" fill="#c0c0c0"/>
<rect x="90" y="737" width="3" height="1" fill="#c0c0c0"/>
<rect x="96" y="737" width="3" height="1" fill="#c0c0c0"/>
<rect x="102" y="737" width="3" height="1" fill="#c0c0c0"/>
<rect x="108" y="737" width="3" height="1" fill="#c0c0c0"/>
<rect x="114" y="737" width="3" height="1" fill="#c0c0c0"/>
<rect x="120" y="737" width="3" height="1" fill="#c0c0c0"/>
<rect x="126" y="737" width="3" height="1" fill="#c0c0c0"/>
<rect x="132" y="737" width="3" height="1" fill="#c0c0c0"/>
<rect x="138" y="737" width="3" height="1" fill="#c0c0c0"/>
<rect x="144" y="737" width="3" height="1" fill="#c0c0c0"/>
<rect x="150" y="737" width="3" height="1" fill="#c0c0c0"/>
<rect x="156" y="737" width="3" height="1" fill="#c0c0c0"/>
<rect x="162" y="737" width="3" height="1" fill="#c0c0c0"/>
<rect x="168" y="737" width="3" height="1" fill="#c0c0c0"/>
<rect x="174" y="737" width="3" height="1" fill="#c0c0c0"/>
<rect x="180" y="737" width="3" height="1" fill="#c0c0c0"/>
<rect x="186" y="737" width="3" height="1" fill="#c0c0c0"/>
<rect x="192" y="737" width="3" height="1" fill="#c0c0c0"/>
<rect x="198" y="737" width="3" height="1" fill="#c0c0c0"/>
<rect x="204" y="737" width="3" height="1" fill="#c0c0c0"/>
<rect x="210" y="737" width="3" height="1" fill="#c0c0c0"/>
<rect x="216" y="737" width="3" height="1" fill="#c0c0c0"/>
<rect x="222" y="737" width="3" height="1" fill="#c0c0c0"/>
<rect x="228" y="737" width="3" height="1" fill="#c0c0c0"/>
<rect x="234" y="737" width="3" height="1" fill="#c0c0c0"/>
<rect x="240" y="737" width="3" height="1" fill="#c0c0c0"/>
<rect x="246" y="737" width="3" height="1" fill="#c0c0c0"/>
<rect x="252" y="737" width="3" height="1" fill="#c0c0c0"/>
<rect x="258" y="737" width="3" height="1" fill="#c0c0c0"/>
<rect x="264" y="737" width="3" height="1" fill="#c0c0c0"/>
<rect x="270" y="737" width="3" height="1" fill="#c0c0c0"/>
<rect x="276" y="737" width="3" height="1" fill="#c0c0c0"/>
<rect x="282" y="737" width="3" height="1" fill="#c0c0c0"/>
<rect x="288" y="737" width="3" height="1" fill="#c0c0c0"/>
<rect x="294" y="737" width="3" height="1" fill="#c0c0c0"/>
<rect x="300" y="737" width="3" height="1" fill="#c0c0c0"/>
<rect x="306" y="737" width="3" height="1" fill="#c0c0c0"/>
<rect x="312" y="737" width="3" height="1" fill="#c0c0c0"/>
<rect x="318" y="737" width="3" height="1" fill="#c0c0c0"/>
<rect x="324" y="737" width="3" height="1" fill="#c0c0c0"/>
<rect x="330" y="737" width="3" height="1" fill="#c0c0c0"/>
<rect x="336" y="737" width="3" height="1" fill="#c0c0c0"/>
<rect x="342" y="737" width="3" height="1" fill="#c0c0c0"/>
<rect x="348" y="737" width="3" height="1" fill="#c0c0c0"/>
<rect x="354" y="737" width="3" height="1" fill="#c0c0c0"/>
<rect x="360" y="737" width="3" height="1" fill="#c0c0c0"/>
<rect x="366" y="737" width="3" height="1" fill="#c0c0c0"/>
<rect x="372" y="737" width="3" height="1" fill="#c0c0c0"/>
<rect x="378" y="737" width="3" height="1" fill="#c0c0c0"/>
<rect x="384" y="737" width="3" height="1" fill="#c0c0c0"/>
<rect x="390" y="737" width="3" height="1" fill="#c0c0c0"/>
<rect x="396" y="737" width="3" height="1" fill="#c0c0c0"/>
<rect x="402" y="737" width="3" height="1" fill="#c0c0c0"/>
<rect x="408" y="737" width="3" height="1" fill="#c0c0c0"/>
<rect x="414" y="737" width="3" height="1" fill="#c0c0c0"/>
<rect x="420" y="737" width="3" height="1" fill="#c0c0c0"/>
<rect x="426" y="737" width="3" height="1" fill="#c0c0c0"/>
<rect x="432" y="737" width="3" height="1" fill="#c0c0c0"/>
<rect x="438" y="737" width="3" height="1" fill="#c0c0c0"/>
<rect x="444" y="737" width="3" height="1" fill="#c0c0c0"/>
<rect x="450" y="737" width="3" height="1" fill="#c0c0c0"/>
<rect x="456" y="737" width="3" height="1" fill="#c0c0c0"/>
<rect x="462" y="737" width="3" height="1" fill="#c0c0c0"/>
<rect x="468" y="737" width="3" height="1" fill="#c0c0c0"/>
<rect x="474" y="737" width="3" height="1" fill="#c0c0c0"/>
<rect x="480" y="737" width="3" height="1" fill="#c0c0c0"/>
<rect x="486" y="737" width="3" height="1" fill="#c0c0c0"/>
<rect x="492" y="737" width="3" height="1" fill="#c0c0c0"/>
<rect x="498" y="737" width="3" height="1" fill="#c0c0c0"/>
<rect x="504" y="737" width="3" height="1" fill="#c0c0c0"/>
<rect x="510" y="737" width="3" height="1" fill="#c0c0c0"/>
<rect x="516" y="737" width="3" height="1" fill="#c0c0c0"/>
<rect x="522" y="737" width="3" height="1" fill="#c0c0c0"/>
<rect x="528" y="737" width="3" height="1" fill="#c0c0c0"/>
<rect x="534" y="737" width="3" height="1" fill="#c0c0c0"/>
<rect x="540" y="737" width="3" height="1" fill="#c0c0c0"/>
<rect x="546" y="737" width="3" height="1" fill="#c0c0c0"/>
<rect x="552" y="737" width="3" height="1" fill="#c0c0c0"/>
<rect x="558" y="737" width="3" height="1" fill="#c0c0c0"/>
<rect x="564" y="737" width="3" height="1" fill="#c0c0c0"/>
<rect x="570" y="737" width="3" height="1" fill="#c0c0c0"/>
<rect x="576" y="737" width="3" height="1" fill="#c0c0c0"/>
<rect x="582" y="737" width="3" height="1" fill="#c0c0c0"/>
<rect x="588" y="737" width="3" height="1" fill="#c0c0c0"/>
<rect x="594" y="737" width="3" height="1" fill="#c0c0c0"/>
<rect x="600" y="737" width="3" height="1" fill="#c0c0c0"/>
<rect x="606" y="737" width="3" height="1" fill="#c0c0c0"/>
<rect x="612" y="737" width="3" height="1" fill="#c0c0c0"/>
<rect x="618" y="737" width="3" height="1" fill="#c0c0c0"/>
<rect x="624" y="737" width="3" height="1" fill="#c0c0c0"/>
<rect x="630" y="737" width="3" height="1" fill="#c0c0c0"/>
<rect x="636" y="737" width="3" height="1" fill="#c0c0c0"/>
<rect x="642" y="737" width="3" height="1" fill="#c0c0c0"/>
<rect x="648" y="737" width="3" height="1" fill="#c0c0c0"/>
<rect x="654" y="737" width="3" height="1" fill="#c0c0c0"/>
<rect x="660" y="737" width="3" height="1" fill="#c0c0c0"/>
<rect x="666" y="737" width="3" height="1" fill="#c0c0c0"/>
<rect x="672" y="737" width="3" height="1" fill="#c0c0c0"/>
<rect x="678" y="737" width="3" height="1" fill="#c0c0c0"/>
<rect x="684" y="737" width="3" height="1" fill="#c0c0c0"/>
<rect x="690" y="737" width="3" height="1" fill="#c0c0c0"/>
<rect x="696" y="737" width="3" height="1" fill="#c0c0c0"/>
<rect x="702" y="737" width="3" height="1" fill="#c0c0c0"/>
<rect x="708" y="737" width="3" height="1" fill="#c0c0c0"/>
<rect x="714" y="737" width="3" height="1" fill="#c0c0c0"/>
<rect x="720" y="737" width="3" height="1" fill="#c0c0c0"/>
<rect x="726" y="737" width="3" height="1" fill="#c0c0c0"/>
<rect x="732" y="737" width="3" height="1" fill="#c0c0c0"/>
<rect x="738" y="737" width="3" height="1" fill="#c0c0c0"/>
<rect x="744" y="737" width="3" height="1" fill="#c0c0c0"/>
<rect x="750" y="737" width="3" height="1" fill="#c0c0c0"/>
<rect x="756" y="737" width="3" height="1" fill="#c0c0c0"/>
<rect x="762" y="737" width="3" height="1" fill="#c0c0c0"/>
<rect x="768" y="737" width="3" height="1" fill="#c0c0c0"/>
<rect x="774" y="737" width="3" height="1" fill="#c0c0c0"/>
<rect x="780" y="737" width="3" height="1" fill="#c0c0c0"/>
<rect x="786" y="737" width="3" height="1" fill="#c0c0c0"/>
<rect x="792" y="737" width="3" height="1" fill="#c0c0c0"/>
<rect x="798" y="737" width="3" height="1" fill="#c0c0c0"/>
<rect x="804" y="737" width="3" height="1" fill="#c0c0c0"/>
<rect x="810" y="737" width="3" height="1" fill="#c0c0c0"/>
<rect x="816" y="737" width="3" height="1" fill="#c0c0c0"/>
<rect x="822" y="737" width="3" height="1" fill="#c0c0c0"/>
<rect x="828" y="737" width="3" height="1" fill="#c0c0c0"/>
<rect x="834" y="737" width="3" height="1" fill="#c0c0c0"/>
<rect x="840" y="737" width="3" height="1" fill="#c0c0c0"/>
<rect x="846" y="737" width="3" height="1" fill="#c0c0c0"/>
<rect x="852" y="737" width="3" height="1" fill="#c0c0c0"/>
<rect x="858" y="737" width="3" height="1" fill="#c0c0c0"/>
<rect x="864" y="737" width="3" height="1" fill="#c0c0c0"/>
<rect x="870" y="737" width="3" height="1" fill="#c0c0c0"/>
<rect x="876" y="737" width="3" height="1" fill="#c0c0c0"/>
<rect x="882" y="737" width="3" height="1" fill="#c0c0c0"/>
<rect x="888" y="737" width="3" height="1" fill="#c0c0c0"/>
<rect x="894" y="737" width="3" height="1" fill="#c0c0c0"/>
<rect x="900" y="737" width="3" height="1" fill="#c0c0c0"/>
<rect x="906" y="737" width="3" height="1" fill="#c0c0c0"/>
<rect x="912" y="737" width="3" height="1" fill="#c0c0c0"/>
<rect x="918" y="737" width="3" height="1" fill="#c0c0c0"/>
<rect x="924" y="737" width="3" height="1" fill="#c0c0c0"/>
<rect x="930" y="737" width="3" height="1" fill="#c0c0c0"/>
<rect x="936" y="737" width="3" height="1" fill="#c0c0c0"/>
<rect x="942" y="737" width="3" height="1" fill="#c0c0c0"/>
<rect x="948" y="737" width="3" height="1" fill="#c0c0c0"/>
<rect x="954" y="737" width="3" height="1" fill="#c0c0c0"/>
<rect x="960" y="737" width="3" height="1" fill="#c0c0c0"/>
<rect x="966" y="737" width="3" height="1" fill="#c0c0c0"/>
<rect x="972" y="737" width="3" height="1" fill="#c0c0c0"/>
<rect x="978" y="737" width="3" height="1" fill="#c0c0c0"/>
<rect x="984" y="737" width="3" height="1" fill="#c0c0c0"/>
<rect x="990" y="737" width="3" height="1" fill="#c0c0c0"/>
<rect x="996" y="737" width="3" height="1" fill="#c0c0c0"/>
<rect x="1002" y="737" width="3" height="1" fill="#c0c0c0"/>
<rect x="1008" y="737" width="3" height="1" fill="#c0c0c0"/>
<rect x="1014" y="737" width="3" height="1" fill="#c0c0c0"/>
<rect x="1020" y="737" width="3" height="1" fill="#c0c0c0"/>
<rect x="1026" y="737" width="3" height="1" fill="#c0c0c0"/>
<rect x="1032" y="737" width="3" height="1" fill="#c0c0c0"/>
<rect x="1038" y="737" width="3" height="1" fill="#c0c0c0"/>
<rect x="1044" y="737" width="3" height="1" fill="#c0c0c0"/>
<rect x="1050" y="737" width="3" height="1" fill="#c0c0c0"/>
<rect x="1056" y="737" width="3" height="1" fill="#c0c0c0"/>
<rect x="1062" y="737" width="3" height="1" fill="#c0c0c0"/>
<rect x="1068" y="737" width="3" height="1" fill="#c0c0c0"/>
<rect x="1074" y="737" width="3" height="1" fill="#c0c0c0"/>
<rect x="1080" y="737" width="3" height="1" fill="#c0c0c0"/>
<rect x="1086" y="737" width="3" height="1" fill="#c0c0c0"/>
<rect x="1092" y="737" width="3" height="1" fill="#c0c0c0"/>
<rect x="1098" y="737" width="3" height="1" fill="#c0c0c0"/>
<rect x="1104" y="737" width="3" height="1" fill="#c0c0c0"/>
<rect x="1110" y="737" width="3" height="1" fill="#c0c0c0"/>
<rect x="1116" y="737" width="3" height="1" fill="#c0c0c0"/>
<rect x="1122" y="737" width="3" height="1" fill="#c0c0c0"/>
<rect x="1128" y="737" width="3" height="1" fill="#c0c0c0"/>
<rect x="1134" y="737" width="3" height="1" fill="#c0c0c0"/>
<rect x="1140" y="737" width="3" height="1" fill="#c0c0c0"/>
<rect x="1146" y="737" width="3" height="1" fill="#c0c0c0"/>
<rect x="1152" y="737" width="3" height="1" fill="#c0c0c0"/>
<rect x="1158" y="737" width="3" height="1" fill="#c0c0c0"/>
<rect x="1164" y="737" width="3" height="1" fill="#c0c0c0"/>
<rect x="1170" y="737" width="3" height="1" fill="#c0c0c0"/>
<rect x="1176" y="737" width="3" height="1" fill="#c0c0c0"/>
<rect x="1182" y="737" width="3" height="1" fill="#c0c0c0"/>
<rect x="1188" y="737" width="3" height="1" fill="#c0c0c0"/>
<rect x="1194" y="737" width="3" height="1" fill="#c0c0c0"/>
<rect x="1200" y="737" width="3" height="1" fill="#c0c0c0"/>
<rect x="1206" y="737" width="3" height="1" fill="#c0c0c0"/>
<rect x="1212" y="737" width="3" height="1" fill="#c0c0c0"/>
<rect x="1218" y="737" width="3" height="1" fill="#c0c0c0"/>
<rect x="1224" y="737" width="3" height="1" fill="#c0c0c0"/>
<rect x="1230" y="737" width="3" height="1" fill="#c0c0c0"/>
<rect x="1236" y="737" width="3" height="1" fill="#c0c0c0"/>
<rect x="1242" y="737" width="3" height="1" fill="#c0c0c0"/>
<rect x="1248" y="737" width="3" height="1" fill="#c0c0c0"/>
<rect x="1254" y="737" width="3" height="1" fill="#c0c0c0"/>
<rect x="1260" y="737" width="3" height="1" fill="#c0c0c0"/>
<rect x="1266" y="737" width="3" height="1" fill="#c0c0c0"/>
<rect x="1272" y="737" width="3" height="1" fill="#c0c0c0"/>
<rect x="1278" y="737" width="3" height="1" fill="#c0c0c0"/>
<rect x="1284" y="737" width="3" height="1" fill="#c0c0c0"/>
<rect x="1290" y="737" width="3" height="1" fill="#c0c0c0"/>
<rect x="1296" y="737" width="3" height="1" fill="#c0c0c0"/>
<rect x="1302" y="737" width="3" height="1" fill="#c0c0c0"/>
<rect x="1308" y="737" width="3" height="1" fill="#c0c0c0"/>
<rect x="1314" y="737" width="3" height="1" fill="#c0c0c0"/>
<rect x="1320" y="737" width="3" height="1" fill="#c0c0c0"/>
<rect x="1326" y="737" width="3" height="1" fill="#c0c0c0"/>
<rect x="1332" y="737" width="3" height="1" fill="#c0c0c0"/>
<rect x="1338" y="737" width="3" height="1" fill="#c0c0c0"/>
<rect x="1344" y="737" width="3" height="1" fill="#c0c0c0"/>
<rect x="1350" y="737" width="3" height="1" fill="#c0c0c0"/>
<rect x="1356" y="737" width="3" height="1" fill="#c0c0c0"/>
<rect x="1362" y="737" width="3" height="1" fill="#c0c0c0"/>
<rect x="1368" y="737" width="3" height="1" fill="#c0c0c0"/>
<rect x="1374" y="737" width="3" height="1" fill="#c0c0c0"/>
<rect x="1380" y="737" width="3" height="1" fill="#c0c0c0"/>
<rect x="1386" y="737" width="3" height="1" fill="#c0c0c0"/>
<rect x="1392" y="737" width="3" height="1" fill="#c0c0c0"/>
<rect x="1398" y="737" width="3" height="1" fill="#c0c0c0"/>
<rect x="1404" y="737" width="3" height="1" fill="#c0c0c0"/>
<rect x="1410" y="737" width="3" height="1" fill="#c0c0c0"/>
<rect x="1416" y="737" width="3" height="1" fill="#c0c0c0"/>
<rect x="1422" y="737" width="3" height="1" fill="#c0c0c0"/>
<rect x="1428" y="737" width="3" height="1" fill="#c0c0c0"/>
<rect x="1434" y="737" width="3" height="1" fill="#c0c0c0"/>
<rect x="1440" y="737" width="3" height="1" fill="#c0c0c0"/>
<rect x="1446" y="737" width="3" height="1" fill="#c0c0c0"/>
<rect x="1452" y="737" width="3" height="1" fill="#c0c0c0"/>
<rect x="1458" y="737" width="3" height="1" fill="#c0c0c0"/>
<rect x="1464" y="737" width="3" height="1" fill="#c0c0c0"/>
<rect x="1470" y="737" width="3" height="1" fill="#c0c0c0"/>
<rect x="1476" y="737" width="3" height="1" fill="#c0c0c0"/>
<rect x="1482" y="737" width="3" height="1" fill="#c0c0c0"/>
<rect x="1488" y="737" width="3" height="1" fill="#c0c0c0"/>
<rect x="1494" y="737" width="3" height="1" fill="#c0c0c0"/>
<rect x="1500" y="737" width="3" height="1" fill="#c0c0c0"/>
<rect x="1506" y="737" width="3" height="1" fill="#c0c0c0"/>
<rect x="1512" y="737" width="3" height="1" fill="#c0c0c0"/>
<rect x="1518" y="737" width="3" height="1" fill="#c0c0c0"/>
<rect x="1524" y="737" width="3" height="1" fill="#c0c0c0"/>
<rect x="1530" y="737" width="3" height="1" fill="#c0c0c0"/>
<rect x="1536" y="737" width="3" height="1" fill="#c0c0c0"/>
<rect x="1542" y="737" width="3" height="1" fill="#c0c0c0"/>
<rect x="1548" y="737" width="3" height="1" fill="#c0c0c0"/>
<rect x="1554" y="737" width="3" height="1" fill="#c0c0c0"/>
<rect x="1560" y="737" width="3" height="1" fill="#c0c0c0"/>
<rect x="1566" y="737" width="3" height="1" fill="#c0c0c0"/>
<rect x="1572" y="737" width="3" height="1" fill="#c0c0c0"/>
<rect x="1578" y="737" width="3" height="1" fill="#c0c0c0"/>
<rect x="1584" y="737" width="3" height="1" fill="#c0c0c0"/>
<rect x="1590" y="737" width="3" height="1" fill="#c0c0c0"/>
<rect x="1596" y="737" width="3" height="1" fill="#c0c0c0"/>
<rect x="1602" y="737" width="3" height="1" fill="#c0c0c0"/>
<rect x="1608" y="737" width="3" height="1" fill="#c0c0c0"/>
<rect x="1614" y="737" width="3" height="1" fill="#c0c0c0"/>
<rect x="1620" y="737" width="3" height="1" fill="#c0c0c0"/>
<rect x="1626" y="737" width="3" height="1" fill="#c0c0c0"/>
<rect x="1632" y="737" width="3" height="1" fill="#c0c0c0"/>
<rect x="1638" y="737" width="3" height="1" fill="#c0c0c0"/>
<rect x="1644" y="737" width="3" height="1" fill="#c0c0c0"/>
<rect x="1650" y="737" width="3" height="1" fill="#c0c0c0"/>
<rect x="1656" y="737" width="3" height="1" fill="#c0c0c0"/>
<rect x="1662" y="737" width="3" height="1" fill="#c0c0c0"/>
<rect x="1668" y="737" width="3" height="1" fill="#c0c0c0"/>
<rect x="1674" y="737" width="3" height="1" fill="#c0c0c0"/>
<path d="M292 690h3v1h-3zM288 691h4v1h-4zM295 691h2v1h-2zM284 692h4v1h-4zM297 692h3v1h-3zM280 693h4v1h-4zM300 693h2v1h-2zM276 694h4v1h-4zM302 694h1v1h-1zM272 695h4v1h-4zM303 695h2v1h-2zM461 695h1v1h-1zM266 696h6v1h-6zM305 696h1v1h-1zM324 696h2v1h-2zM459 696h2v1h-2zM462 696h1v1h-1zM516 696h2v1h-2zM258 697h8v1h-8zM306 697h1v1h-1zM320 697h4v1h-4zM326 697h2v1h-2zM437 697h4v1h-4zM457 697h2v1h-2zM463 697h1v1h-1zM514 697h2v1h-2zM518 697h1v1h-1zM253 698h5v1h-5zM307 698h2v1h-2zM314 698h6v1h-6zM328 698h2v1h-2zM435 698h2v1h-2zM441 698h8v1h-8zM455 698h2v1h-2zM464 698h1v1h-1zM500 698h5v1h-5zM511 698h3v1h-3zM519 698h1v1h-1zM252 699h1v1h-1zM309 699h5v1h-5zM330 699h2v1h-2zM433 699h2v1h-2zM449 699h6v1h-6zM465 699h1v1h-1zM496 699h4v1h-4zM505 699h6v1h-6zM520 699h1v1h-1zM251 700h1v1h-1zM332 700h5v1h-5zM431 700h2v1h-2zM466 700h1v1h-1zM492 700h4v1h-4zM521 700h1v1h-1zM564 700h2v1h-2zM250 701h1v1h-1zM337 701h5v1h-5zM428 701h3v1h-3zM467 701h1v1h-1zM488 701h4v1h-4zM522 701h1v1h-1zM562 701h2v1h-2zM566 701h1v1h-1zM220 702h2v1h-2zM249 702h1v1h-1zM342 702h2v1h-2zM426 702h2v1h-2zM468 702h1v1h-1zM474 702h14v1h-14zM523 702h1v1h-1zM559 702h3v1h-3zM567 702h2v1h-2zM581 702h12v1h-12zM634 702h23v1h-23zM764 702h10v1h-10zM216 703h4v1h-4zM222 703h2v1h-2zM249 703h1v1h-1zM344 703h2v1h-2zM423 703h3v1h-3zM469 703h5v1h-5zM524 703h1v1h-1zM530 703h4v1h-4zM557 703h2v1h-2zM569 703h1v1h-1zM579 703h2v1h-2zM593 703h6v1h-6zM628 703h6v1h-6zM657 703h13v1h-13zM762 703h2v1h-2zM774 703h1v1h-1zM212 704h4v1h-4zM224 704h2v1h-2zM248 704h1v1h-1zM346 704h2v1h-2zM420 704h3v1h-3zM525 704h5v1h-5zM534 704h2v1h-2zM556 704h1v1h-1zM570 704h1v1h-1zM577 704h2v1h-2zM599 704h2v1h-2zM626 704h2v1h-2zM670 704h1v1h-1zM759 704h3v1h-3zM774 704h1v1h-1zM210 705h2v1h-2zM226 705h2v1h-2zM247 705h1v1h-1zM348 705h5v1h-5zM416 705h4v1h-4zM536 705h2v1h-2zM555 705h1v1h-1zM571 705h2v1h-2zM575 705h2v1h-2zM601 705h3v1h-3zM623 705h3v1h-3zM670 705h1v1h-1zM757 705h2v1h-2zM775 705h1v1h-1zM207 706h3v1h-3zM228 706h13v1h-13zM246 706h1v1h-1zM353 706h6v1h-6zM413 706h3v1h-3zM538 706h2v1h-2zM554 706h1v1h-1zM573 706h2v1h-2zM604 706h2v1h-2zM621 706h2v1h-2zM671 706h1v1h-1zM756 706h1v1h-1zM775 706h1v1h-1zM205 707h2v1h-2zM241 707h5v1h-5zM359 707h2v1h-2zM411 707h2v1h-2zM540 707h2v1h-2zM553 707h1v1h-1zM606 707h2v1h-2zM619 707h2v1h-2zM672 707h1v1h-1zM755 707h1v1h-1zM776 707h1v1h-1zM789 707h1v1h-1zM203 708h2v1h-2zM361 708h3v1h-3zM410 708h1v1h-1zM542 708h2v1h-2zM553 708h1v1h-1zM608 708h2v1h-2zM617 708h2v1h-2zM673 708h1v1h-1zM754 708h1v1h-1zM777 708h1v1h-1zM788 708h1v1h-1zM790 708h1v1h-1zM82 709h5v1h-5zM201 709h2v1h-2zM364 709h5v1h-5zM408 709h2v1h-2zM544 709h1v1h-1zM552 709h1v1h-1zM610 709h2v1h-2zM615 709h2v1h-2zM673 709h1v1h-1zM730 709h7v1h-7zM752 709h2v1h-2zM777 709h1v1h-1zM787 709h1v1h-1zM791 709h1v1h-1zM1268 709h3v1h-3zM77 710h5v1h-5zM87 710h2v1h-2zM199 710h2v1h-2zM369 710h5v1h-5zM406 710h2v1h-2zM545 710h2v1h-2zM551 710h1v1h-1zM612 710h3v1h-3zM674 710h1v1h-1zM725 710h5v1h-5zM737 710h6v1h-6zM751 710h1v1h-1zM778 710h1v1h-1zM786 710h1v1h-1zM792 710h1v1h-1zM1204 710h2v1h-2zM1264 710h4v1h-4zM1271 710h2v1h-2zM76 711h1v1h-1zM89 711h3v1h-3zM196 711h3v1h-3zM374 711h1v1h-1zM389 711h17v1h-17zM547 711h2v1h-2zM550 711h1v1h-1zM675 711h1v1h-1zM723 711h2v1h-2zM743 711h4v1h-4zM750 711h1v1h-1zM779 711h1v1h-1zM785 711h1v1h-1zM793 711h1v1h-1zM805 711h1v1h-1zM1200 711h4v1h-4zM1206 711h1v1h-1zM1261 711h3v1h-3zM1273 711h3v1h-3zM75 712h1v1h-1zM92 712h2v1h-2zM194 712h2v1h-2zM375 712h1v1h-1zM388 712h1v1h-1zM549 712h1v1h-1zM676 712h1v1h-1zM722 712h1v1h-1zM747 712h3v1h-3zM779 712h1v1h-1zM784 712h1v1h-1zM793 712h1v1h-1zM803 712h2v1h-2zM806 712h1v1h-1zM1173 712h12v1h-12zM1194 712h6v1h-6zM1207 712h1v1h-1zM1259 712h2v1h-2zM1276 712h10v1h-10zM5 713h2v1h-2zM75 713h1v1h-1zM94 713h2v1h-2zM191 713h3v1h-3zM376 713h1v1h-1zM387 713h1v1h-1zM676 713h1v1h-1zM720 713h2v1h-2zM780 713h1v1h-1zM783 713h1v1h-1zM794 713h1v1h-1zM802 713h1v1h-1zM807 713h1v1h-1zM1172 713h1v1h-1zM1185 713h9v1h-9zM1207 713h1v1h-1zM1258 713h1v1h-1zM1286 713h2v1h-2zM7 714h2v1h-2zM74 714h1v1h-1zM96 714h2v1h-2zM189 714h2v1h-2zM377 714h1v1h-1zM386 714h1v1h-1zM677 714h1v1h-1zM718 714h2v1h-2zM780 714h1v1h-1zM782 714h1v1h-1zM795 714h1v1h-1zM800 714h2v1h-2zM807 714h1v1h-1zM1171 714h1v1h-1zM1208 714h1v1h-1zM1244 714h3v1h-3zM1256 714h2v1h-2zM1288 714h2v1h-2zM9 715h3v1h-3zM73 715h1v1h-1zM98 715h2v1h-2zM188 715h1v1h-1zM377 715h1v1h-1zM385 715h1v1h-1zM678 715h2v1h-2zM717 715h1v1h-1zM781 715h1v1h-1zM796 715h1v1h-1zM798 715h2v1h-2zM808 715h1v1h-1zM1170 715h1v1h-1zM1209 715h1v1h-1zM1240 715h4v1h-4zM1247 715h4v1h-4zM1254 715h2v1h-2zM1290 715h2v1h-2zM1605 715h9v1h-9zM12 716h10v1h-10zM72 716h1v1h-1zM100 716h2v1h-2zM187 716h1v1h-1zM378 716h1v1h-1zM384 716h1v1h-1zM680 716h1v1h-1zM715 716h2v1h-2zM797 716h1v1h-1zM809 716h1v1h-1zM1169 716h1v1h-1zM1210 716h1v1h-1zM1234 716h6v1h-6zM1251 716h3v1h-3zM1292 716h10v1h-10zM1604 716h1v1h-1zM1614 716h1v1h-1zM22 717h2v1h-2zM71 717h1v1h-1zM102 717h1v1h-1zM165 717h2v1h-2zM186 717h1v1h-1zM379 717h1v1h-1zM383 717h1v1h-1zM681 717h2v1h-2zM713 717h2v1h-2zM810 717h1v1h-1zM1169 717h1v1h-1zM1211 717h1v1h-1zM1229 717h5v1h-5zM1302 717h2v1h-2zM1604 717h1v1h-1zM1615 717h1v1h-1zM24 718h1v1h-1zM71 718h1v1h-1zM103 718h1v1h-1zM164 718h1v1h-1zM167 718h2v1h-2zM185 718h1v1h-1zM380 718h1v1h-1zM382 718h1v1h-1zM683 718h2v1h-2zM711 718h2v1h-2zM811 718h1v1h-1zM1168 718h1v1h-1zM1211 718h1v1h-1zM1227 718h2v1h-2zM1304 718h1v1h-1zM1461 718h2v1h-2zM1603 718h1v1h-1zM1616 718h1v1h-1zM25 719h2v1h-2zM70 719h1v1h-1zM104 719h1v1h-1zM163 719h1v1h-1zM169 719h3v1h-3zM185 719h1v1h-1zM381 719h1v1h-1zM685 719h1v1h-1zM708 719h3v1h-3zM811 719h1v1h-1zM1167 719h1v1h-1zM1212 719h1v1h-1zM1226 719h1v1h-1zM1305 719h2v1h-2zM1460 719h1v1h-1zM1463 719h2v1h-2zM1603 719h1v1h-1zM1617 719h1v1h-1zM27 720h2v1h-2zM69 720h1v1h-1zM105 720h1v1h-1zM162 720h1v1h-1zM172 720h3v1h-3zM184 720h1v1h-1zM686 720h2v1h-2zM706 720h2v1h-2zM812 720h1v1h-1zM1166 720h1v1h-1zM1213 720h2v1h-2zM1224 720h2v1h-2zM1307 720h2v1h-2zM1314 720h4v1h-4zM1460 720h1v1h-1zM1465 720h3v1h-3zM1602 720h1v1h-1zM1618 720h1v1h-1zM29 721h1v1h-1zM68 721h1v1h-1zM105 721h1v1h-1zM161 721h1v1h-1zM175 721h2v1h-2zM183 721h1v1h-1zM688 721h2v1h-2zM703 721h3v1h-3zM813 721h1v1h-1zM1162 721h4v1h-4zM1215 721h4v1h-4zM1222 721h2v1h-2zM1309 721h5v1h-5zM1318 721h1v1h-1zM1459 721h1v1h-1zM1468 721h3v1h-3zM1602 721h1v1h-1zM1619 721h1v1h-1zM30 722h1v1h-1zM68 722h1v1h-1zM106 722h1v1h-1zM160 722h1v1h-1zM177 722h3v1h-3zM182 722h1v1h-1zM690 722h2v1h-2zM698 722h5v1h-5zM814 722h1v1h-1zM1157 722h5v1h-5zM1219 722h3v1h-3zM1319 722h2v1h-2zM1459 722h1v1h-1zM1471 722h4v1h-4zM1601 722h1v1h-1zM1620 722h1v1h-1zM31 723h1v1h-1zM67 723h1v1h-1zM107 723h1v1h-1zM141 723h4v1h-4zM159 723h1v1h-1zM180 723h2v1h-2zM692 723h6v1h-6zM815 723h2v1h-2zM1141 723h1v1h-1zM1156 723h1v1h-1zM1321 723h1v1h-1zM1365 723h1v1h-1zM1445 723h1v1h-1zM1458 723h1v1h-1zM1475 723h14v1h-14zM1600 723h1v1h-1zM1621 723h12v1h-12zM32 724h1v1h-1zM66 724h1v1h-1zM108 724h1v1h-1zM139 724h2v1h-2zM145 724h8v1h-8zM158 724h1v1h-1zM817 724h1v1h-1zM845 724h1v1h-1zM1140 724h1v1h-1zM1142 724h1v1h-1zM1156 724h1v1h-1zM1322 724h1v1h-1zM1332 724h2v1h-2zM1364 724h1v1h-1zM1366 724h1v1h-1zM1443 724h2v1h-2zM1446 724h1v1h-1zM1457 724h1v1h-1zM1489 724h6v1h-6zM1588 724h2v1h-2zM1600 724h1v1h-1zM1633 724h5v1h-5zM33 725h1v1h-1zM66 725h1v1h-1zM109 725h1v1h-1zM138 725h1v1h-1zM153 725h5v1h-5zM818 725h1v1h-1zM828 725h2v1h-2zM843 725h2v1h-2zM846 725h1v1h-1zM1138 725h2v1h-2zM1143 725h1v1h-1zM1155 725h1v1h-1zM1323 725h2v1h-2zM1328 725h4v1h-4zM1334 725h2v1h-2zM1363 725h1v1h-1zM1366 725h1v1h-1zM1442 725h1v1h-1zM1447 725h1v1h-1zM1457 725h1v1h-1zM1495 725h4v1h-4zM1584 725h4v1h-4zM1590 725h2v1h-2zM1599 725h1v1h-1zM1638 725h1v1h-1zM34 726h1v1h-1zM65 726h1v1h-1zM110 726h2v1h-2zM136 726h2v1h-2zM819 726h2v1h-2zM824 726h4v1h-4zM830 726h2v1h-2zM842 726h1v1h-1zM847 726h1v1h-1zM1137 726h1v1h-1zM1143 726h1v1h-1zM1154 726h1v1h-1zM1325 726h3v1h-3zM1336 726h1v1h-1zM1348 726h2v1h-2zM1362 726h1v1h-1zM1367 726h1v1h-1zM1440 726h2v1h-2zM1448 726h1v1h-1zM1456 726h1v1h-1zM1499 726h4v1h-4zM1581 726h3v1h-3zM1592 726h1v1h-1zM1599 726h1v1h-1zM1639 726h1v1h-1zM35 727h1v1h-1zM64 727h1v1h-1zM112 727h2v1h-2zM134 727h2v1h-2zM821 727h3v1h-3zM832 727h2v1h-2zM840 727h2v1h-2zM848 727h1v1h-1zM1136 727h1v1h-1zM1144 727h1v1h-1zM1153 727h1v1h-1zM1337 727h2v1h-2zM1346 727h2v1h-2zM1350 727h2v1h-2zM1361 727h1v1h-1zM1368 727h1v1h-1zM1438 727h2v1h-2zM1449 727h1v1h-1zM1455 727h1v1h-1zM1503 727h2v1h-2zM1581 727h1v1h-1zM1593 727h2v1h-2zM1598 727h1v1h-1zM1640 727h1v1h-1zM36 728h1v1h-1zM64 728h1v1h-1zM114 728h2v1h-2zM132 728h2v1h-2zM834 728h2v1h-2zM838 728h2v1h-2zM849 728h2v1h-2zM1134 728h2v1h-2zM1145 728h1v1h-1zM1153 728h1v1h-1zM1339 728h2v1h-2zM1343 728h3v1h-3zM1352 728h1v1h-1zM1360 728h1v1h-1zM1369 728h1v1h-1zM1428 728h10v1h-10zM1450 728h1v1h-1zM1455 728h1v1h-1zM1505 728h3v1h-3zM1580 728h1v1h-1zM1595 728h2v1h-2zM1598 728h1v1h-1zM1641 728h1v1h-1zM37 729h2v1h-2zM63 729h1v1h-1zM116 729h3v1h-3zM130 729h2v1h-2zM836 729h2v1h-2zM851 729h1v1h-1zM1133 729h1v1h-1zM1146 729h1v1h-1zM1152 729h1v1h-1zM1341 729h2v1h-2zM1353 729h2v1h-2zM1359 729h1v1h-1zM1369 729h1v1h-1zM1426 729h2v1h-2zM1451 729h1v1h-1zM1454 729h1v1h-1zM1508 729h10v1h-10zM1580 729h1v1h-1zM1597 729h1v1h-1zM1642 729h1v1h-1zM39 730h2v1h-2zM52 730h3v1h-3zM62 730h1v1h-1zM119 730h4v1h-4zM127 730h3v1h-3zM852 730h1v1h-1zM868 730h2v1h-2zM1132 730h1v1h-1zM1147 730h1v1h-1zM1151 730h1v1h-1zM1355 730h2v1h-2zM1358 730h1v1h-1zM1370 730h1v1h-1zM1423 730h3v1h-3zM1452 730h1v1h-1zM1454 730h1v1h-1zM1518 730h1v1h-1zM1579 730h1v1h-1zM1643 730h1v1h-1zM1658 730h4v1h-4zM41 731h3v1h-3zM48 731h4v1h-4zM55 731h4v1h-4zM62 731h1v1h-1zM123 731h4v1h-4zM853 731h2v1h-2zM866 731h2v1h-2zM870 731h1v1h-1zM1131 731h1v1h-1zM1147 731h1v1h-1zM1150 731h1v1h-1zM1357 731h1v1h-1zM1371 731h1v1h-1zM1421 731h2v1h-2zM1453 731h1v1h-1zM1519 731h1v1h-1zM1579 731h1v1h-1zM1644 731h1v1h-1zM1650 731h8v1h-8zM44 732h4v1h-4zM59 732h3v1h-3zM855 732h4v1h-4zM863 732h3v1h-3zM870 732h1v1h-1zM1131 732h1v1h-1zM1148 732h1v1h-1zM1150 732h1v1h-1zM1372 732h1v1h-1zM1420 732h1v1h-1zM1520 732h1v1h-1zM1579 732h1v1h-1zM1645 732h5v1h-5zM859 733h4v1h-4zM871 733h1v1h-1zM1130 733h1v1h-1zM1149 733h1v1h-1zM1372 733h1v1h-1zM1419 733h1v1h-1zM1521 733h2v1h-2zM1578 733h1v1h-1zM872 734h1v1h-1zM1129 734h1v1h-1zM1373 734h4v1h-4zM1402 734h4v1h-4zM1418 734h1v1h-1zM1523 734h1v1h-1zM1578 734h1v1h-1zM873 735h1v1h-1zM1117 735h1v1h-1zM1128 735h1v1h-1zM1377 735h25v1h-25zM1406 735h2v1h-2zM1417 735h1v1h-1zM1524 735h1v1h-1zM1530 735h5v1h-5zM1577 735h1v1h-1zM873 736h1v1h-1zM1005 736h1v1h-1zM1116 736h1v1h-1zM1118 736h2v1h-2zM1127 736h1v1h-1zM1408 736h1v1h-1zM1416 736h1v1h-1zM1525 736h5v1h-5zM1535 736h4v1h-4zM1577 736h1v1h-1zM874 737h1v1h-1zM1004 737h1v1h-1zM1006 737h1v1h-1zM1116 737h1v1h-1zM1120 737h2v1h-2zM1127 737h1v1h-1zM1409 737h2v1h-2zM1415 737h1v1h-1zM1539 737h3v1h-3zM1577 737h1v1h-1zM875 738h1v1h-1zM1004 738h1v1h-1zM1007 738h1v1h-1zM1115 738h1v1h-1zM1122 738h2v1h-2zM1126 738h1v1h-1zM1411 738h2v1h-2zM1414 738h1v1h-1zM1542 738h2v1h-2zM1576 738h1v1h-1zM876 739h1v1h-1zM1003 739h1v1h-1zM1008 739h1v1h-1zM1115 739h1v1h-1zM1124 739h2v1h-2zM1413 739h1v1h-1zM1544 739h2v1h-2zM1576 739h1v1h-1zM876 740h1v1h-1zM940 740h2v1h-2zM1003 740h1v1h-1zM1009 740h2v1h-2zM1114 740h1v1h-1zM1546 740h2v1h-2zM1575 740h1v1h-1zM877 741h4v1h-4zM938 741h2v1h-2zM942 741h2v1h-2zM1002 741h1v1h-1zM1011 741h1v1h-1zM1037 741h4v1h-4zM1114 741h1v1h-1zM1548 741h3v1h-3zM1575 741h1v1h-1zM881 742h6v1h-6zM935 742h3v1h-3zM944 742h2v1h-2zM1002 742h1v1h-1zM1012 742h1v1h-1zM1036 742h1v1h-1zM1041 742h6v1h-6zM1113 742h1v1h-1zM1551 742h2v1h-2zM1575 742h1v1h-1zM887 743h4v1h-4zM933 743h2v1h-2zM946 743h2v1h-2zM1001 743h1v1h-1zM1013 743h4v1h-4zM1034 743h2v1h-2zM1047 743h2v1h-2zM1112 743h1v1h-1zM1553 743h3v1h-3zM1574 743h1v1h-1zM891 744h3v1h-3zM932 744h1v1h-1zM948 744h2v1h-2zM1001 744h1v1h-1zM1017 744h6v1h-6zM1033 744h1v1h-1zM1049 744h3v1h-3zM1112 744h1v1h-1zM1556 744h5v1h-5zM1574 744h1v1h-1zM894 745h2v1h-2zM931 745h1v1h-1zM950 745h2v1h-2zM1000 745h1v1h-1zM1023 745h2v1h-2zM1032 745h1v1h-1zM1052 745h3v1h-3zM1111 745h1v1h-1zM1561 745h8v1h-8zM1573 745h1v1h-1zM896 746h2v1h-2zM930 746h1v1h-1zM952 746h2v1h-2zM1000 746h1v1h-1zM1025 746h3v1h-3zM1030 746h2v1h-2zM1055 746h4v1h-4zM1111 746h1v1h-1zM1569 746h5v1h-5zM898 747h2v1h-2zM928 747h2v1h-2zM954 747h2v1h-2zM999 747h1v1h-1zM1028 747h2v1h-2zM1059 747h3v1h-3zM1110 747h1v1h-1zM900 748h5v1h-5zM927 748h1v1h-1zM956 748h2v1h-2zM999 748h1v1h-1zM1062 748h2v1h-2zM1110 748h1v1h-1zM905 749h16v1h-16zM926 749h1v1h-1zM958 749h1v1h-1zM998 749h1v1h-1zM1064 749h2v1h-2zM1109 749h1v1h-1zM921 750h5v1h-5zM959 750h2v1h-2zM973 750h20v1h-20zM998 750h1v1h-1zM1066 750h2v1h-2zM1107 750h2v1h-2zM961 751h1v1h-1zM971 751h2v1h-2zM993 751h5v1h-5zM1068 751h5v1h-5zM1106 751h1v1h-1zM962 752h1v1h-1zM969 752h2v1h-2zM1073 752h8v1h-8zM1104 752h2v1h-2zM963 753h2v1h-2zM967 753h2v1h-2zM1081 753h16v1h-16zM1102 753h2v1h-2zM965 754h2v1h-2zM1097 754h5v1h-5z" fill="#1e90ff"/>
<rect x="1681" y="665" width="1" height="1" fill="#000"/>
<text x="1684" y="674" font-size="10" fill="#000" stroke="#000" text-anchor="start" textLength="14.5" lengthAdjust="spacingAndGlyphs">100</text>
<text x="1684" y="699" font-size="10" fill="#000" stroke="#000" text-anchor="start" textLength="9.5" lengthAdjust="spacingAndGlyphs">70</text>
<text x="1684" y="741" font-size="10" fill="#000" stroke="#000" text-anchor="start" textLength="9.5" lengthAdjust="spacingAndGlyphs">30</text>
<rect x="1681" y="767" width="1" height="1" fill="#000"/>
<text x="1684" y="765" font-size="10" fill="#000" stroke="#000" text-anchor="start" textLength="4.8" lengthAdjust="spacingAndGlyphs">0</text></svg></body></html>
